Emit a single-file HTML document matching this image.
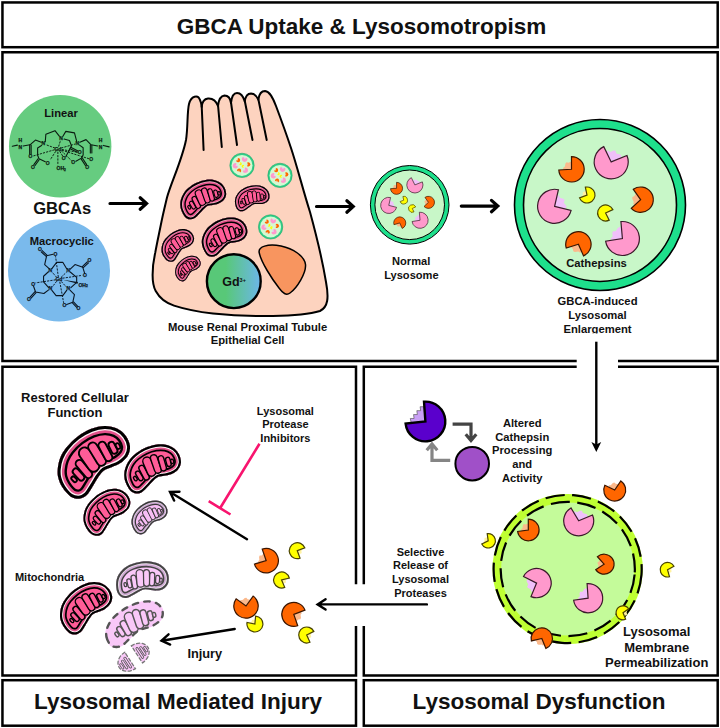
<!DOCTYPE html>
<html><head><meta charset="utf-8"><title>GBCA Uptake &amp; Lysosomotropism</title>
<style>html,body{margin:0;padding:0;background:#fff}svg{display:block}text{font-family:"Liberation Sans",sans-serif}</style>
</head><body>
<svg width="720" height="728" viewBox="0 0 720 728" font-family="'Liberation Sans', sans-serif" fill="#111">
<rect width="720" height="728" fill="#fff"/>
<defs><linearGradient id="gdg" x1="0" x2="1" y1="0" y2="0"><stop offset="0.35" stop-color="#58c878"/><stop offset="1" stop-color="#6cb6ea"/></linearGradient><clipPath id="clipEnl"><rect x="540" y="320" width="120" height="13.6"/></clipPath></defs>
<g fill="none" stroke="#000" stroke-width="2.5" stroke-linejoin="miter">
<rect x="2.45" y="2.45" width="715.25" height="44.75"/>
<path d="M576.7,361 L2.45,361 L2.45,52.2 L717.7,52.2 L717.7,361 L618,361"/>
<path d="M356,584.3 L356,366.8 L2.45,366.8 L2.45,675.5 L356,675.5 L356,626.1"/>
<path d="M576.7,366.8 L363.8,366.8 L363.8,584.3 M363.8,626.1 L363.8,675.5 L717.7,675.5 L717.7,366.8 L618,366.8"/>
<rect x="2.45" y="680.2" width="353.55" height="45.5"/>
<rect x="363.8" y="680.2" width="353.9" height="45.5"/>
</g>
<text x="361.5" y="33.6" font-size="22.5" text-anchor="middle" font-weight="bold" >GBCA Uptake &amp; Lysosomotropism</text>
<text x="178" y="708.9" font-size="22.5" text-anchor="middle" font-weight="bold" >Lysosomal Mediated Injury</text>
<text x="539" y="708.9" font-size="22.5" text-anchor="middle" font-weight="bold" >Lysosomal Dysfunction</text>
<circle cx="60.2" cy="146.2" r="51.2" fill="#66cc80"/>
<circle cx="59" cy="270.5" r="51" fill="#7abaec"/>
<text x="61" y="116.7" font-size="11.2" text-anchor="middle" font-weight="bold" >Linear</text>
<text x="61.8" y="244.7" font-size="11.2" text-anchor="middle" font-weight="bold" >Macrocyclic</text>
<text x="62.2" y="214.4" font-size="16.6" text-anchor="middle" font-weight="bold" >GBCAs</text>
<g stroke="#0a1c10" stroke-width="1.1" fill="none" stroke-linecap="round" stroke-linejoin="round">
<polyline points="12.34,146.28 17.39,145.12"/>
<polyline points="23.17,145.99 29.97,144.83 35.46,140.06 41.24,142.23"/>
<polyline points="45.28,141.65 45.86,134.28 54.97,130.67 59.3,136.16"/>
<polyline points="62.91,136.16 65.8,131.39 74.47,132.84 76.64,141.08"/>
<polyline points="41.53,145.55 37.62,148.01 37.62,155.24 39.07,158.85 45.28,161.74"/>
<polyline points="64.07,139.05 69.42,140.5 71.58,145.84 70.14,148.3 65.8,156.68"/>
<polyline points="79.53,145.12 83.14,147.72 83.14,154.95 81.41,158.13 75.92,161.31"/>
<polyline points="79.82,142.23 86.03,139.63 91.09,144.83 97.6,145.99"/>
<polyline points="103.38,145.41 109.16,146.86"/>
<path d="M29.65,145.12 L29.65,154.08 M31.15,145.12 L31.15,154.08"/>
<path d="M38.03,158.84 L33.84,164.62 M39.24,159.72 L35.05,165.5"/>
<path d="M70.09,148.68 L77.32,152.3 M70.76,147.34 L77.99,150.95"/>
<path d="M81.07,158.83 L85.41,165.47 M82.33,158.01 L86.66,164.65"/>
<path d="M90.34,145.12 L90.34,153.07 M91.84,145.12 L91.84,153.07"/>
</g><g stroke="#0a1c10" stroke-width="0.95" fill="none" stroke-dasharray="2.2 1.1">
<path d="M54.97,148.01 L45.86,144.69"/>
<path d="M58.58,146.57 L60.6,140.21"/>
<path d="M61.18,148.01 L75.34,143.97"/>
<path d="M54.53,149.75 L32.86,156.1"/>
<path d="M55.69,151.34 L50.2,159.86"/>
<path d="M57.86,151.77 L57.86,165.35"/>
<path d="M59.73,151.34 L62.91,156.39"/>
<path d="M61.18,150.61 L71.58,160.73"/>
<path d="M61.76,149.46 L77.94,152.35"/>
<path d="M61.76,150.18 L88.92,158.71"/>
</g>
<g fill="#0a1c10" stroke="#0a1c10" stroke-width="0.25" font-size="5" font-weight="bold" text-anchor="middle">
<text x="20.28" y="142.3">H</text>
<text x="20.28" y="148.66">N</text>
<text x="43.4" y="145.48">N</text>
<text x="61.18" y="139.98">N</text>
<text x="77.36" y="145.19">N</text>
<text x="100.49" y="142.3">H</text>
<text x="100.49" y="148.66">N</text>
<text x="57.86" y="150.97">Gd</text>
<text x="30.4" y="158.48">O</text>
<text x="32.86" y="168.89">O</text>
<text x="47.74" y="164.55">O</text>
<text x="63.64" y="159.93">O</text>
<text x="73.32" y="163.97">O</text>
<text x="79.82" y="154.44">O</text>
<text x="91.09" y="161.08">O</text>
<text x="87.19" y="168.6">O</text>
<text x="61.18" y="170.33">OH<tspan font-size="3.25" dy="0.8">2</tspan></text>
</g>
<g stroke="#0b1622" stroke-width="1.1" fill="none" stroke-linecap="round" stroke-linejoin="round">
<polyline points="49.11,268.67 44.67,264.56 46.67,255.67 53.11,254.33"/>
<polyline points="51.89,268.67 56.67,262.33 62.78,262.33 66.67,268.67"/>
<polyline points="70.22,272 76.67,277.33 76.67,282.33 70.89,287.56"/>
<polyline points="66.67,290.44 62.78,295.67 56.11,295.67 51.89,290.44"/>
<polyline points="48.44,271.78 43.56,276.22 43.56,281.78 48.44,287.33"/>
<polyline points="70.22,269.11 75,264.56 82.78,267.33 84.67,273.44"/>
<polyline points="48.33,290.11 43.89,293.44 35.56,292 33.56,286.22"/>
<polyline points="70.22,290.44 74.44,294.56 72.78,302.33 66.67,304.56"/>
<path d="M46.96,255.12 L42.18,250.67 M45.93,256.22 L41.16,251.77"/>
<path d="M83.28,267.66 L88.51,262.89 M82.27,266.56 L87.49,261.78"/>
<path d="M35.01,291.71 L30.01,297.04 M36.1,292.74 L31.1,298.07"/>
<path d="M72.46,302.85 L76.68,307.29 M73.54,301.82 L77.77,306.26"/>
</g><g stroke="#0b1622" stroke-width="0.95" fill="none" stroke-dasharray="2.2 1.1">
<path d="M56.67,277.33 L52,272"/>
<path d="M61.11,277.33 L66.67,272"/>
<path d="M56.67,281.22 L52,287.33"/>
<path d="M61.33,281.56 L66.67,287.33"/>
<path d="M58.33,277.11 L55.56,256.22"/>
<path d="M62.44,278.22 L82.22,275.33"/>
<path d="M55.78,279.78 L35.56,282.89"/>
<path d="M59.78,281.78 L63.67,302.89"/>
</g>
<path d="M62.78,279.78 L77.57,283.87 L77.98,281.91 Z" fill="#0b1622"/>
<g fill="#0b1622" stroke="#0b1622" stroke-width="0.25" font-size="5" font-weight="bold" text-anchor="middle">
<text x="40" y="251.13">O</text>
<text x="55.33" y="255.8">O</text>
<text x="50.22" y="272.24">N</text>
<text x="68.33" y="272.24">N</text>
<text x="50.22" y="290.47">N</text>
<text x="68.33" y="290.47">N</text>
<text x="58.89" y="281.13">Gd</text>
<text x="89.44" y="262.24">O</text>
<text x="85" y="277.47">O</text>
<text x="83.11" y="286.69">OH<tspan font-size="3.25" dy="0.8">2</tspan></text>
<text x="33.11" y="285.8">O</text>
<text x="28.89" y="300.8">O</text>
<text x="64.44" y="306.91">O</text>
<text x="78.33" y="310.24">O</text>
</g>
<path d="M110,203.5 L146.5,203.5 M140.18,209.19 L146.5,203.5 L140.18,197.81" fill="none" stroke="#000" stroke-width="3.2" stroke-linecap="round" stroke-linejoin="miter"/>
<path d="M316.5,206.5 L353.2,206.5 M346.88,212.19 L353.2,206.5 L346.88,200.81" fill="none" stroke="#000" stroke-width="3.2" stroke-linecap="round" stroke-linejoin="miter"/>
<path d="M461.3,206.1 L497.8,206.1 M491.48,211.79 L497.8,206.1 L491.48,200.41" fill="none" stroke="#000" stroke-width="3.2" stroke-linecap="round" stroke-linejoin="miter"/>
<path d="M167,197.5 C171,183 182,160 186,140 C188,128 187,112 189,104 C191,96 198,94 200,100 C201.5,103 201.5,105 201.7,107 C202,103 203,99 208,98.5 C214,98 216.5,102 218,106 C218.5,101 220,96 224.5,95.5 C229,95.5 230.5,99.5 231,103 C231.5,98 233,93 237,93 C241.5,93 243.5,97 244.8,101.5 C245.3,97.5 247,93.5 251,93.5 C255,93.8 257,96.5 258.3,99.5 C259,95 261,91 265,91 C270,91.5 273,98 276,106 C282,122 287,136 291,148 C297,166 303,190 310,212 C316,234 322,258 326,282 C329,298 328,307 320,311 C300,317 250,317.5 213,313.5 C200,312 186,309.5 174,305.6 C166,303 159,297 155.7,291 C153.5,287 152.6,283 152.6,275 C152.6,266 154,258 155.3,252.4 C157,243 159,234 160.8,225 C163,214 165,206 167,197.5 Z" fill="#fdd3bf" stroke="#000" stroke-width="2" stroke-linejoin="round"/>
<path d="M201.7,106 L203.6,150 M218,105 L221.8,147 M231,102.5 L237,145 M244.8,101 L252.5,140 M258.3,99 L266.7,140" fill="none" stroke="#000" stroke-width="2" stroke-linecap="round"/>
<circle cx="242" cy="165.4" r="12.2" fill="#2fd088" stroke="#1c9c62" stroke-width="0.5"/>
<circle cx="242" cy="165.4" r="10.5" fill="#d6f8d3"/>
<polygon points="244.6,159.1 243.76,157.64 243.92,157.33 244.27,157.56 244.51,157.45 244.79,157.27 245.09,157.27 245.24,157.66 245.5,157.71 245.83,157.74 246.07,157.91 246.06,158.26" fill="#f0c0fa"/>
<path d="M244.6,159.1 L246.94,157.75 A2.7,2.7 0 1 1 243.25,156.76 Z" fill="#ff99cc" stroke="#3a1a2a" stroke-width="0.01" stroke-linejoin="miter"/>
<polygon points="235.5,165.7 236.08,164.11 236.42,164.05 236.47,164.46 236.71,164.57 237.02,164.67 237.21,164.9 237.02,165.26 237.14,165.5 237.33,165.76 237.36,166.06 237.09,166.28" fill="#f0c0fa"/>
<path d="M235.5,165.7 L238.04,166.62 A2.7,2.7 0 1 1 236.42,163.16 Z" fill="#ff99cc" stroke="#3a1a2a" stroke-width="0.01" stroke-linejoin="miter"/>
<polygon points="245.3,170.2 243.64,170.49 243.41,170.23 243.74,169.98 243.72,169.72 243.65,169.4 243.75,169.12 244.16,169.1 244.31,168.88 244.44,168.58 244.68,168.41 245.01,168.54" fill="#f0c0fa"/>
<path d="M245.3,170.2 L244.83,167.54 A2.7,2.7 0 1 1 242.64,170.67 Z" fill="#ff99cc" stroke="#3a1a2a" stroke-width="0.01" stroke-linejoin="miter"/>
<polygon points="238.1,160.2 236.84,160.42 236.67,160.17 236.94,159.94 236.96,159.7 236.96,159.41 237.11,159.17 237.46,159.19 237.65,159.04 237.88,158.94" fill="#fbb98c"/>
<path d="M238.1,160.2 L237.74,158.13 A2.1,2.1 0 1 1 236.03,160.56 Z" fill="#ff6600" stroke="#3a1500" stroke-width="0.01" stroke-linejoin="miter"/>
<polygon points="248.3,164.4 247.48,165.38 247.17,165.27 247.22,164.9 247.08,164.67 246.91,164.4 246.91,164.09 247.22,163.9 247.31,163.64 247.48,163.42" fill="#fbb98c"/>
<path d="M248.3,164.4 L246.95,162.79 A2.1,2.1 0 1 1 246.95,166.01 Z" fill="#ff6600" stroke="#3a1500" stroke-width="0.01" stroke-linejoin="miter"/>
<polygon points="239.1,170.6 239.74,171.7 239.53,171.96 239.2,171.79 238.94,171.84 238.63,171.9 238.33,171.8 238.26,171.44 238.05,171.27 237.9,171.04" fill="#fbb98c"/>
<path d="M239.1,170.6 L237.13,171.32 A2.1,2.1 0 1 1 240.15,172.42 Z" fill="#ff6600" stroke="#3a1500" stroke-width="0.01" stroke-linejoin="miter"/>
<polygon points="240.4,163.7 239.73,164.09 239.57,163.96 239.68,163.76 239.65,163.6 239.61,163.41 239.67,163.24 239.89,163.19 239.99,163.06 240.14,162.97" fill="#fff2a0"/>
<path d="M240.4,163.7 L239.92,162.38 A1.4,1.4 0 1 1 239.19,164.4 Z" fill="#ffff00" stroke="#4a4400" stroke-width="0.01" stroke-linejoin="miter"/>
<polygon points="243,166.3 243.7,165.97 243.84,166.09 243.72,166.25 243.75,166.39 243.8,166.55 243.76,166.71 243.56,166.75 243.49,166.87 243.39,166.97" fill="#fff2a0"/>
<path d="M243,166.3 L243.7,167.51 A1.4,1.4 0 1 1 244.27,165.71 Z" fill="#ffff00" stroke="#4a4400" stroke-width="0.01" stroke-linejoin="miter"/>
<circle cx="280" cy="175.4" r="12.2" fill="#2fd088" stroke="#1c9c62" stroke-width="0.5"/>
<circle cx="280" cy="175.4" r="10.5" fill="#d6f8d3"/>
<polygon points="282.6,169.1 281.76,167.64 281.92,167.33 282.27,167.56 282.51,167.45 282.79,167.27 283.09,167.27 283.24,167.66 283.5,167.71 283.83,167.74 284.07,167.91 284.06,168.26" fill="#f0c0fa"/>
<path d="M282.6,169.1 L284.94,167.75 A2.7,2.7 0 1 1 281.25,166.76 Z" fill="#ff99cc" stroke="#3a1a2a" stroke-width="0.01" stroke-linejoin="miter"/>
<polygon points="273.5,175.7 274.08,174.11 274.42,174.05 274.47,174.46 274.71,174.57 275.02,174.67 275.21,174.9 275.02,175.26 275.14,175.5 275.33,175.76 275.36,176.06 275.09,176.28" fill="#f0c0fa"/>
<path d="M273.5,175.7 L276.04,176.62 A2.7,2.7 0 1 1 274.42,173.16 Z" fill="#ff99cc" stroke="#3a1a2a" stroke-width="0.01" stroke-linejoin="miter"/>
<polygon points="283.3,180.2 281.64,180.49 281.41,180.23 281.74,179.98 281.72,179.72 281.65,179.4 281.75,179.12 282.16,179.1 282.31,178.88 282.44,178.58 282.68,178.41 283.01,178.54" fill="#f0c0fa"/>
<path d="M283.3,180.2 L282.83,177.54 A2.7,2.7 0 1 1 280.64,180.67 Z" fill="#ff99cc" stroke="#3a1a2a" stroke-width="0.01" stroke-linejoin="miter"/>
<polygon points="276.1,170.2 274.84,170.42 274.67,170.17 274.94,169.94 274.96,169.7 274.96,169.41 275.11,169.17 275.46,169.19 275.65,169.04 275.88,168.94" fill="#fbb98c"/>
<path d="M276.1,170.2 L275.74,168.13 A2.1,2.1 0 1 1 274.03,170.56 Z" fill="#ff6600" stroke="#3a1500" stroke-width="0.01" stroke-linejoin="miter"/>
<polygon points="286.3,174.4 285.48,175.38 285.17,175.27 285.22,174.9 285.08,174.67 284.91,174.4 284.91,174.09 285.22,173.9 285.31,173.64 285.48,173.42" fill="#fbb98c"/>
<path d="M286.3,174.4 L284.95,172.79 A2.1,2.1 0 1 1 284.95,176.01 Z" fill="#ff6600" stroke="#3a1500" stroke-width="0.01" stroke-linejoin="miter"/>
<polygon points="277.1,180.6 277.74,181.7 277.53,181.96 277.2,181.79 276.94,181.84 276.63,181.9 276.33,181.8 276.26,181.44 276.05,181.27 275.9,181.04" fill="#fbb98c"/>
<path d="M277.1,180.6 L275.13,181.32 A2.1,2.1 0 1 1 278.15,182.42 Z" fill="#ff6600" stroke="#3a1500" stroke-width="0.01" stroke-linejoin="miter"/>
<polygon points="278.4,173.7 277.73,174.09 277.57,173.96 277.68,173.76 277.65,173.6 277.61,173.41 277.67,173.24 277.89,173.19 277.99,173.06 278.14,172.97" fill="#fff2a0"/>
<path d="M278.4,173.7 L277.92,172.38 A1.4,1.4 0 1 1 277.19,174.4 Z" fill="#ffff00" stroke="#4a4400" stroke-width="0.01" stroke-linejoin="miter"/>
<polygon points="281,176.3 281.7,175.97 281.84,176.09 281.72,176.25 281.75,176.39 281.8,176.55 281.76,176.71 281.56,176.75 281.49,176.87 281.39,176.97" fill="#fff2a0"/>
<path d="M281,176.3 L281.7,177.51 A1.4,1.4 0 1 1 282.27,175.71 Z" fill="#ffff00" stroke="#4a4400" stroke-width="0.01" stroke-linejoin="miter"/>
<circle cx="270.6" cy="226.9" r="12.2" fill="#2fd088" stroke="#1c9c62" stroke-width="0.5"/>
<circle cx="270.6" cy="226.9" r="10.5" fill="#d6f8d3"/>
<polygon points="273.2,220.6 272.36,219.14 272.52,218.83 272.87,219.06 273.11,218.95 273.39,218.77 273.69,218.77 273.84,219.16 274.1,219.21 274.43,219.24 274.67,219.41 274.66,219.76" fill="#f0c0fa"/>
<path d="M273.2,220.6 L275.54,219.25 A2.7,2.7 0 1 1 271.85,218.26 Z" fill="#ff99cc" stroke="#3a1a2a" stroke-width="0.01" stroke-linejoin="miter"/>
<polygon points="264.1,227.2 264.68,225.61 265.02,225.55 265.07,225.96 265.31,226.07 265.62,226.17 265.81,226.4 265.62,226.76 265.74,227 265.93,227.26 265.96,227.56 265.69,227.78" fill="#f0c0fa"/>
<path d="M264.1,227.2 L266.64,228.12 A2.7,2.7 0 1 1 265.02,224.66 Z" fill="#ff99cc" stroke="#3a1a2a" stroke-width="0.01" stroke-linejoin="miter"/>
<polygon points="273.9,231.7 272.24,231.99 272.01,231.73 272.34,231.48 272.32,231.22 272.25,230.9 272.35,230.62 272.76,230.6 272.91,230.38 273.04,230.08 273.28,229.91 273.61,230.04" fill="#f0c0fa"/>
<path d="M273.9,231.7 L273.43,229.04 A2.7,2.7 0 1 1 271.24,232.17 Z" fill="#ff99cc" stroke="#3a1a2a" stroke-width="0.01" stroke-linejoin="miter"/>
<polygon points="266.7,221.7 265.44,221.92 265.27,221.67 265.54,221.44 265.56,221.2 265.56,220.91 265.71,220.67 266.06,220.69 266.25,220.54 266.48,220.44" fill="#fbb98c"/>
<path d="M266.7,221.7 L266.34,219.63 A2.1,2.1 0 1 1 264.63,222.06 Z" fill="#ff6600" stroke="#3a1500" stroke-width="0.01" stroke-linejoin="miter"/>
<polygon points="276.9,225.9 276.08,226.88 275.77,226.77 275.82,226.4 275.68,226.17 275.51,225.9 275.51,225.59 275.82,225.4 275.91,225.14 276.08,224.92" fill="#fbb98c"/>
<path d="M276.9,225.9 L275.55,224.29 A2.1,2.1 0 1 1 275.55,227.51 Z" fill="#ff6600" stroke="#3a1500" stroke-width="0.01" stroke-linejoin="miter"/>
<polygon points="267.7,232.1 268.34,233.2 268.13,233.46 267.8,233.29 267.54,233.34 267.23,233.4 266.93,233.3 266.86,232.94 266.65,232.77 266.5,232.54" fill="#fbb98c"/>
<path d="M267.7,232.1 L265.73,232.82 A2.1,2.1 0 1 1 268.75,233.92 Z" fill="#ff6600" stroke="#3a1500" stroke-width="0.01" stroke-linejoin="miter"/>
<polygon points="269,225.2 268.33,225.59 268.17,225.46 268.28,225.26 268.25,225.1 268.21,224.91 268.27,224.74 268.49,224.69 268.59,224.56 268.74,224.47" fill="#fff2a0"/>
<path d="M269,225.2 L268.52,223.88 A1.4,1.4 0 1 1 267.79,225.9 Z" fill="#ffff00" stroke="#4a4400" stroke-width="0.01" stroke-linejoin="miter"/>
<polygon points="271.6,227.8 272.3,227.47 272.44,227.59 272.32,227.75 272.35,227.89 272.4,228.05 272.36,228.21 272.16,228.25 272.09,228.37 271.99,228.47" fill="#fff2a0"/>
<path d="M271.6,227.8 L272.3,229.01 A1.4,1.4 0 1 1 272.87,227.21 Z" fill="#ffff00" stroke="#4a4400" stroke-width="0.01" stroke-linejoin="miter"/>
<clipPath id="mc1"><path d="M181.46,210.74 C180.66,208.72 180.3,206.65 180.22,204.75 C180.13,202.86 180.37,201.3 180.96,199.37 C181.55,197.45 182.47,195.11 183.75,193.18 C185.04,191.25 186.53,189.54 188.65,187.81 C190.78,186.08 193.7,184.11 196.51,182.8 C199.32,181.49 202.63,180.42 205.52,179.95 C208.4,179.47 211.3,179.46 213.83,179.96 C216.36,180.46 218.85,181.58 220.69,182.96 C222.53,184.33 223.96,186.25 224.87,188.21 C225.77,190.18 226.35,192.73 226.12,194.74 C225.9,196.75 224.86,198.79 223.53,200.28 C222.2,201.77 219.95,202.92 218.14,203.69 C216.34,204.47 214.42,204.57 212.71,204.92 C210.99,205.28 209.3,205.21 207.87,205.83 C206.45,206.45 205.58,207.33 204.16,208.64 C202.74,209.95 200.93,212.11 199.36,213.68 C197.8,215.25 196.35,217.13 194.77,218.06 C193.19,218.99 191.5,219.47 189.88,219.28 C188.25,219.08 186.41,218.31 185,216.88 C183.6,215.46 182.26,212.76 181.46,210.74Z"/></clipPath>
<g clip-path="url(#mc1)" fill="none" stroke-linejoin="round">
<path d="M181.46,210.74 C180.66,208.72 180.3,206.65 180.22,204.75 C180.13,202.86 180.37,201.3 180.96,199.37 C181.55,197.45 182.47,195.11 183.75,193.18 C185.04,191.25 186.53,189.54 188.65,187.81 C190.78,186.08 193.7,184.11 196.51,182.8 C199.32,181.49 202.63,180.42 205.52,179.95 C208.4,179.47 211.3,179.46 213.83,179.96 C216.36,180.46 218.85,181.58 220.69,182.96 C222.53,184.33 223.96,186.25 224.87,188.21 C225.77,190.18 226.35,192.73 226.12,194.74 C225.9,196.75 224.86,198.79 223.53,200.28 C222.2,201.77 219.95,202.92 218.14,203.69 C216.34,204.47 214.42,204.57 212.71,204.92 C210.99,205.28 209.3,205.21 207.87,205.83 C206.45,206.45 205.58,207.33 204.16,208.64 C202.74,209.95 200.93,212.11 199.36,213.68 C197.8,215.25 196.35,217.13 194.77,218.06 C193.19,218.99 191.5,219.47 189.88,219.28 C188.25,219.08 186.41,218.31 185,216.88 C183.6,215.46 182.26,212.76 181.46,210.74Z" fill="#ff5c97"/>
<path d="M181.46,210.74 C180.66,208.72 180.3,206.65 180.22,204.75 C180.13,202.86 180.37,201.3 180.96,199.37 C181.55,197.45 182.47,195.11 183.75,193.18 C185.04,191.25 186.53,189.54 188.65,187.81 C190.78,186.08 193.7,184.11 196.51,182.8 C199.32,181.49 202.63,180.42 205.52,179.95 C208.4,179.47 211.3,179.46 213.83,179.96 C216.36,180.46 218.85,181.58 220.69,182.96 C222.53,184.33 223.96,186.25 224.87,188.21 C225.77,190.18 226.35,192.73 226.12,194.74 C225.9,196.75 224.86,198.79 223.53,200.28 C222.2,201.77 219.95,202.92 218.14,203.69 C216.34,204.47 214.42,204.57 212.71,204.92 C210.99,205.28 209.3,205.21 207.87,205.83 C206.45,206.45 205.58,207.33 204.16,208.64 C202.74,209.95 200.93,212.11 199.36,213.68 C197.8,215.25 196.35,217.13 194.77,218.06 C193.19,218.99 191.5,219.47 189.88,219.28 C188.25,219.08 186.41,218.31 185,216.88 C183.6,215.46 182.26,212.76 181.46,210.74Z" stroke="#000" stroke-width="11.12"/>
<path d="M181.46,210.74 C180.66,208.72 180.3,206.65 180.22,204.75 C180.13,202.86 180.37,201.3 180.96,199.37 C181.55,197.45 182.47,195.11 183.75,193.18 C185.04,191.25 186.53,189.54 188.65,187.81 C190.78,186.08 193.7,184.11 196.51,182.8 C199.32,181.49 202.63,180.42 205.52,179.95 C208.4,179.47 211.3,179.46 213.83,179.96 C216.36,180.46 218.85,181.58 220.69,182.96 C222.53,184.33 223.96,186.25 224.87,188.21 C225.77,190.18 226.35,192.73 226.12,194.74 C225.9,196.75 224.86,198.79 223.53,200.28 C222.2,201.77 219.95,202.92 218.14,203.69 C216.34,204.47 214.42,204.57 212.71,204.92 C210.99,205.28 209.3,205.21 207.87,205.83 C206.45,206.45 205.58,207.33 204.16,208.64 C202.74,209.95 200.93,212.11 199.36,213.68 C197.8,215.25 196.35,217.13 194.77,218.06 C193.19,218.99 191.5,219.47 189.88,219.28 C188.25,219.08 186.41,218.31 185,216.88 C183.6,215.46 182.26,212.76 181.46,210.74Z" stroke="#e4508a" stroke-width="8.25"/>
<path d="M181.46,210.74 C180.66,208.72 180.3,206.65 180.22,204.75 C180.13,202.86 180.37,201.3 180.96,199.37 C181.55,197.45 182.47,195.11 183.75,193.18 C185.04,191.25 186.53,189.54 188.65,187.81 C190.78,186.08 193.7,184.11 196.51,182.8 C199.32,181.49 202.63,180.42 205.52,179.95 C208.4,179.47 211.3,179.46 213.83,179.96 C216.36,180.46 218.85,181.58 220.69,182.96 C222.53,184.33 223.96,186.25 224.87,188.21 C225.77,190.18 226.35,192.73 226.12,194.74 C225.9,196.75 224.86,198.79 223.53,200.28 C222.2,201.77 219.95,202.92 218.14,203.69 C216.34,204.47 214.42,204.57 212.71,204.92 C210.99,205.28 209.3,205.21 207.87,205.83 C206.45,206.45 205.58,207.33 204.16,208.64 C202.74,209.95 200.93,212.11 199.36,213.68 C197.8,215.25 196.35,217.13 194.77,218.06 C193.19,218.99 191.5,219.47 189.88,219.28 C188.25,219.08 186.41,218.31 185,216.88 C183.6,215.46 182.26,212.76 181.46,210.74Z" stroke="#f3b0c4" stroke-width="5.14"/>
<path d="M181.46,210.74 C180.66,208.72 180.3,206.65 180.22,204.75 C180.13,202.86 180.37,201.3 180.96,199.37 C181.55,197.45 182.47,195.11 183.75,193.18 C185.04,191.25 186.53,189.54 188.65,187.81 C190.78,186.08 193.7,184.11 196.51,182.8 C199.32,181.49 202.63,180.42 205.52,179.95 C208.4,179.47 211.3,179.46 213.83,179.96 C216.36,180.46 218.85,181.58 220.69,182.96 C222.53,184.33 223.96,186.25 224.87,188.21 C225.77,190.18 226.35,192.73 226.12,194.74 C225.9,196.75 224.86,198.79 223.53,200.28 C222.2,201.77 219.95,202.92 218.14,203.69 C216.34,204.47 214.42,204.57 212.71,204.92 C210.99,205.28 209.3,205.21 207.87,205.83 C206.45,206.45 205.58,207.33 204.16,208.64 C202.74,209.95 200.93,212.11 199.36,213.68 C197.8,215.25 196.35,217.13 194.77,218.06 C193.19,218.99 191.5,219.47 189.88,219.28 C188.25,219.08 186.41,218.31 185,216.88 C183.6,215.46 182.26,212.76 181.46,210.74Z" stroke="#000" stroke-width="3.59"/>
</g>
<path d="M188.87,206.66 L189.67,207.95" stroke="#000" stroke-width="3.4" stroke-linecap="round" fill="none"/>
<path d="M188.87,206.66 L189.67,207.95" stroke="#ff5c97" stroke-width="1.13" stroke-linecap="round" fill="none"/>
<path d="M191.21,202.98 L193.7,207.13" stroke="#000" stroke-width="4.77" stroke-linecap="round" fill="none"/>
<path d="M191.21,202.98 L193.7,207.13" stroke="#ff5c97" stroke-width="2.5" stroke-linecap="round" fill="none"/>
<path d="M194.34,198.82 L198.22,206.12" stroke="#000" stroke-width="5.67" stroke-linecap="round" fill="none"/>
<path d="M194.34,198.82 L198.22,206.12" stroke="#ff5c97" stroke-width="3.4" stroke-linecap="round" fill="none"/>
<path d="M198.69,193.32 L202.34,201.91" stroke="#000" stroke-width="8" stroke-linecap="round" fill="none"/>
<path d="M198.69,193.32 L202.34,201.91" stroke="#ff5c97" stroke-width="5.72" stroke-linecap="round" fill="none"/>
<path d="M204.22,190.76 L207.46,200.14" stroke="#000" stroke-width="6.62" stroke-linecap="round" fill="none"/>
<path d="M204.22,190.76 L207.46,200.14" stroke="#ff5c97" stroke-width="4.35" stroke-linecap="round" fill="none"/>
<path d="M209.93,191.05 L212.14,198.76" stroke="#000" stroke-width="5.67" stroke-linecap="round" fill="none"/>
<path d="M209.93,191.05 L212.14,198.76" stroke="#ff5c97" stroke-width="3.4" stroke-linecap="round" fill="none"/>
<path d="M215.44,191.84 L216.45,195.62" stroke="#000" stroke-width="4.72" stroke-linecap="round" fill="none"/>
<path d="M215.44,191.84 L216.45,195.62" stroke="#ff5c97" stroke-width="2.44" stroke-linecap="round" fill="none"/>
<path d="M218.89,192.71 L219.24,193.98" stroke="#000" stroke-width="3.4" stroke-linecap="round" fill="none"/>
<path d="M218.89,192.71 L219.24,193.98" stroke="#ff5c97" stroke-width="1.13" stroke-linecap="round" fill="none"/>
<clipPath id="mc2"><path d="M235.14,203.89 C234.86,202.34 234.88,200.81 235.09,199.45 C235.29,198.09 235.67,197.01 236.36,195.72 C237.05,194.43 238.03,192.89 239.21,191.69 C240.39,190.5 241.69,189.48 243.45,188.54 C245.2,187.6 247.56,186.6 249.74,186.06 C251.93,185.52 254.43,185.21 256.55,185.28 C258.68,185.34 260.74,185.73 262.48,186.44 C264.21,187.14 265.83,188.29 266.95,189.52 C268.07,190.76 268.82,192.32 269.2,193.85 C269.57,195.37 269.63,197.27 269.19,198.68 C268.75,200.08 267.73,201.38 266.57,202.26 C265.42,203.14 263.66,203.65 262.26,203.95 C260.87,204.25 259.49,204.06 258.22,204.07 C256.95,204.09 255.75,203.81 254.65,204.05 C253.55,204.29 252.8,204.8 251.61,205.53 C250.42,206.27 248.83,207.56 247.49,208.46 C246.16,209.37 244.87,210.5 243.61,210.95 C242.36,211.4 241.09,211.5 239.96,211.14 C238.83,210.77 237.62,209.97 236.82,208.76 C236.02,207.55 235.43,205.44 235.14,203.89Z"/></clipPath>
<g clip-path="url(#mc2)" fill="none" stroke-linejoin="round">
<path d="M235.14,203.89 C234.86,202.34 234.88,200.81 235.09,199.45 C235.29,198.09 235.67,197.01 236.36,195.72 C237.05,194.43 238.03,192.89 239.21,191.69 C240.39,190.5 241.69,189.48 243.45,188.54 C245.2,187.6 247.56,186.6 249.74,186.06 C251.93,185.52 254.43,185.21 256.55,185.28 C258.68,185.34 260.74,185.73 262.48,186.44 C264.21,187.14 265.83,188.29 266.95,189.52 C268.07,190.76 268.82,192.32 269.2,193.85 C269.57,195.37 269.63,197.27 269.19,198.68 C268.75,200.08 267.73,201.38 266.57,202.26 C265.42,203.14 263.66,203.65 262.26,203.95 C260.87,204.25 259.49,204.06 258.22,204.07 C256.95,204.09 255.75,203.81 254.65,204.05 C253.55,204.29 252.8,204.8 251.61,205.53 C250.42,206.27 248.83,207.56 247.49,208.46 C246.16,209.37 244.87,210.5 243.61,210.95 C242.36,211.4 241.09,211.5 239.96,211.14 C238.83,210.77 237.62,209.97 236.82,208.76 C236.02,207.55 235.43,205.44 235.14,203.89Z" fill="#ff5c97"/>
<path d="M235.14,203.89 C234.86,202.34 234.88,200.81 235.09,199.45 C235.29,198.09 235.67,197.01 236.36,195.72 C237.05,194.43 238.03,192.89 239.21,191.69 C240.39,190.5 241.69,189.48 243.45,188.54 C245.2,187.6 247.56,186.6 249.74,186.06 C251.93,185.52 254.43,185.21 256.55,185.28 C258.68,185.34 260.74,185.73 262.48,186.44 C264.21,187.14 265.83,188.29 266.95,189.52 C268.07,190.76 268.82,192.32 269.2,193.85 C269.57,195.37 269.63,197.27 269.19,198.68 C268.75,200.08 267.73,201.38 266.57,202.26 C265.42,203.14 263.66,203.65 262.26,203.95 C260.87,204.25 259.49,204.06 258.22,204.07 C256.95,204.09 255.75,203.81 254.65,204.05 C253.55,204.29 252.8,204.8 251.61,205.53 C250.42,206.27 248.83,207.56 247.49,208.46 C246.16,209.37 244.87,210.5 243.61,210.95 C242.36,211.4 241.09,211.5 239.96,211.14 C238.83,210.77 237.62,209.97 236.82,208.76 C236.02,207.55 235.43,205.44 235.14,203.89Z" stroke="#000" stroke-width="8.22"/>
<path d="M235.14,203.89 C234.86,202.34 234.88,200.81 235.09,199.45 C235.29,198.09 235.67,197.01 236.36,195.72 C237.05,194.43 238.03,192.89 239.21,191.69 C240.39,190.5 241.69,189.48 243.45,188.54 C245.2,187.6 247.56,186.6 249.74,186.06 C251.93,185.52 254.43,185.21 256.55,185.28 C258.68,185.34 260.74,185.73 262.48,186.44 C264.21,187.14 265.83,188.29 266.95,189.52 C268.07,190.76 268.82,192.32 269.2,193.85 C269.57,195.37 269.63,197.27 269.19,198.68 C268.75,200.08 267.73,201.38 266.57,202.26 C265.42,203.14 263.66,203.65 262.26,203.95 C260.87,204.25 259.49,204.06 258.22,204.07 C256.95,204.09 255.75,203.81 254.65,204.05 C253.55,204.29 252.8,204.8 251.61,205.53 C250.42,206.27 248.83,207.56 247.49,208.46 C246.16,209.37 244.87,210.5 243.61,210.95 C242.36,211.4 241.09,211.5 239.96,211.14 C238.83,210.77 237.62,209.97 236.82,208.76 C236.02,207.55 235.43,205.44 235.14,203.89Z" stroke="#e4508a" stroke-width="6.13"/>
<path d="M235.14,203.89 C234.86,202.34 234.88,200.81 235.09,199.45 C235.29,198.09 235.67,197.01 236.36,195.72 C237.05,194.43 238.03,192.89 239.21,191.69 C240.39,190.5 241.69,189.48 243.45,188.54 C245.2,187.6 247.56,186.6 249.74,186.06 C251.93,185.52 254.43,185.21 256.55,185.28 C258.68,185.34 260.74,185.73 262.48,186.44 C264.21,187.14 265.83,188.29 266.95,189.52 C268.07,190.76 268.82,192.32 269.2,193.85 C269.57,195.37 269.63,197.27 269.19,198.68 C268.75,200.08 267.73,201.38 266.57,202.26 C265.42,203.14 263.66,203.65 262.26,203.95 C260.87,204.25 259.49,204.06 258.22,204.07 C256.95,204.09 255.75,203.81 254.65,204.05 C253.55,204.29 252.8,204.8 251.61,205.53 C250.42,206.27 248.83,207.56 247.49,208.46 C246.16,209.37 244.87,210.5 243.61,210.95 C242.36,211.4 241.09,211.5 239.96,211.14 C238.83,210.77 237.62,209.97 236.82,208.76 C236.02,207.55 235.43,205.44 235.14,203.89Z" stroke="#f3b0c4" stroke-width="3.73"/>
<path d="M235.14,203.89 C234.86,202.34 234.88,200.81 235.09,199.45 C235.29,198.09 235.67,197.01 236.36,195.72 C237.05,194.43 238.03,192.89 239.21,191.69 C240.39,190.5 241.69,189.48 243.45,188.54 C245.2,187.6 247.56,186.6 249.74,186.06 C251.93,185.52 254.43,185.21 256.55,185.28 C258.68,185.34 260.74,185.73 262.48,186.44 C264.21,187.14 265.83,188.29 266.95,189.52 C268.07,190.76 268.82,192.32 269.2,193.85 C269.57,195.37 269.63,197.27 269.19,198.68 C268.75,200.08 267.73,201.38 266.57,202.26 C265.42,203.14 263.66,203.65 262.26,203.95 C260.87,204.25 259.49,204.06 258.22,204.07 C256.95,204.09 255.75,203.81 254.65,204.05 C253.55,204.29 252.8,204.8 251.61,205.53 C250.42,206.27 248.83,207.56 247.49,208.46 C246.16,209.37 244.87,210.5 243.61,210.95 C242.36,211.4 241.09,211.5 239.96,211.14 C238.83,210.77 237.62,209.97 236.82,208.76 C236.02,207.55 235.43,205.44 235.14,203.89Z" stroke="#000" stroke-width="2.6"/>
</g>
<path d="M240.99,202.01 L241.38,203.04" stroke="#000" stroke-width="2.47" stroke-linecap="round" fill="none"/>
<path d="M240.99,202.01 L241.38,203.04" stroke="#ff5c97" stroke-width="0.82" stroke-linecap="round" fill="none"/>
<path d="M243.16,199.71 L244.37,203.01" stroke="#000" stroke-width="3.47" stroke-linecap="round" fill="none"/>
<path d="M243.16,199.71 L244.37,203.01" stroke="#ff5c97" stroke-width="1.82" stroke-linecap="round" fill="none"/>
<path d="M245.98,197.18 L247.73,202.92" stroke="#000" stroke-width="4.12" stroke-linecap="round" fill="none"/>
<path d="M245.98,197.18 L247.73,202.92" stroke="#ff5c97" stroke-width="2.47" stroke-linecap="round" fill="none"/>
<path d="M249.84,193.86 L251.24,200.49" stroke="#000" stroke-width="5.81" stroke-linecap="round" fill="none"/>
<path d="M249.84,193.86 L251.24,200.49" stroke="#ff5c97" stroke-width="4.16" stroke-linecap="round" fill="none"/>
<path d="M254.14,192.8 L255.14,199.94" stroke="#000" stroke-width="4.81" stroke-linecap="round" fill="none"/>
<path d="M254.14,192.8 L255.14,199.94" stroke="#ff5c97" stroke-width="3.16" stroke-linecap="round" fill="none"/>
<path d="M258.16,193.8 L258.67,199.6" stroke="#000" stroke-width="4.12" stroke-linecap="round" fill="none"/>
<path d="M258.16,193.8 L258.67,199.6" stroke="#ff5c97" stroke-width="2.47" stroke-linecap="round" fill="none"/>
<path d="M261.98,195.13 L262.18,197.96" stroke="#000" stroke-width="3.42" stroke-linecap="round" fill="none"/>
<path d="M261.98,195.13 L262.18,197.96" stroke="#ff5c97" stroke-width="1.77" stroke-linecap="round" fill="none"/>
<path d="M264.32,196.22 L264.39,197.18" stroke="#000" stroke-width="2.47" stroke-linecap="round" fill="none"/>
<path d="M264.32,196.22 L264.39,197.18" stroke="#ff5c97" stroke-width="0.82" stroke-linecap="round" fill="none"/>
<clipPath id="mc3"><path d="M203.03,248.33 C202.24,246.32 201.88,244.27 201.79,242.39 C201.71,240.51 201.94,238.97 202.53,237.06 C203.11,235.14 204.03,232.82 205.3,230.91 C206.57,229 208.05,227.3 210.16,225.58 C212.27,223.87 215.17,221.91 217.95,220.61 C220.74,219.31 224.02,218.26 226.89,217.79 C229.75,217.32 232.63,217.3 235.13,217.8 C237.64,218.29 240.11,219.41 241.93,220.77 C243.76,222.14 245.18,224.04 246.08,225.98 C246.98,227.93 247.55,230.47 247.32,232.46 C247.1,234.46 246.07,236.47 244.75,237.95 C243.43,239.43 241.2,240.57 239.41,241.34 C237.62,242.11 235.72,242.21 234.02,242.56 C232.32,242.91 230.64,242.85 229.22,243.46 C227.81,244.07 226.95,244.95 225.54,246.24 C224.13,247.54 222.33,249.69 220.78,251.24 C219.23,252.8 217.79,254.66 216.23,255.59 C214.66,256.51 212.99,256.99 211.38,256.8 C209.76,256.6 207.93,255.83 206.54,254.42 C205.15,253.01 203.82,250.33 203.03,248.33Z"/></clipPath>
<g clip-path="url(#mc3)" fill="none" stroke-linejoin="round">
<path d="M203.03,248.33 C202.24,246.32 201.88,244.27 201.79,242.39 C201.71,240.51 201.94,238.97 202.53,237.06 C203.11,235.14 204.03,232.82 205.3,230.91 C206.57,229 208.05,227.3 210.16,225.58 C212.27,223.87 215.17,221.91 217.95,220.61 C220.74,219.31 224.02,218.26 226.89,217.79 C229.75,217.32 232.63,217.3 235.13,217.8 C237.64,218.29 240.11,219.41 241.93,220.77 C243.76,222.14 245.18,224.04 246.08,225.98 C246.98,227.93 247.55,230.47 247.32,232.46 C247.1,234.46 246.07,236.47 244.75,237.95 C243.43,239.43 241.2,240.57 239.41,241.34 C237.62,242.11 235.72,242.21 234.02,242.56 C232.32,242.91 230.64,242.85 229.22,243.46 C227.81,244.07 226.95,244.95 225.54,246.24 C224.13,247.54 222.33,249.69 220.78,251.24 C219.23,252.8 217.79,254.66 216.23,255.59 C214.66,256.51 212.99,256.99 211.38,256.8 C209.76,256.6 207.93,255.83 206.54,254.42 C205.15,253.01 203.82,250.33 203.03,248.33Z" fill="#ff5c97"/>
<path d="M203.03,248.33 C202.24,246.32 201.88,244.27 201.79,242.39 C201.71,240.51 201.94,238.97 202.53,237.06 C203.11,235.14 204.03,232.82 205.3,230.91 C206.57,229 208.05,227.3 210.16,225.58 C212.27,223.87 215.17,221.91 217.95,220.61 C220.74,219.31 224.02,218.26 226.89,217.79 C229.75,217.32 232.63,217.3 235.13,217.8 C237.64,218.29 240.11,219.41 241.93,220.77 C243.76,222.14 245.18,224.04 246.08,225.98 C246.98,227.93 247.55,230.47 247.32,232.46 C247.1,234.46 246.07,236.47 244.75,237.95 C243.43,239.43 241.2,240.57 239.41,241.34 C237.62,242.11 235.72,242.21 234.02,242.56 C232.32,242.91 230.64,242.85 229.22,243.46 C227.81,244.07 226.95,244.95 225.54,246.24 C224.13,247.54 222.33,249.69 220.78,251.24 C219.23,252.8 217.79,254.66 216.23,255.59 C214.66,256.51 212.99,256.99 211.38,256.8 C209.76,256.6 207.93,255.83 206.54,254.42 C205.15,253.01 203.82,250.33 203.03,248.33Z" stroke="#000" stroke-width="11.03"/>
<path d="M203.03,248.33 C202.24,246.32 201.88,244.27 201.79,242.39 C201.71,240.51 201.94,238.97 202.53,237.06 C203.11,235.14 204.03,232.82 205.3,230.91 C206.57,229 208.05,227.3 210.16,225.58 C212.27,223.87 215.17,221.91 217.95,220.61 C220.74,219.31 224.02,218.26 226.89,217.79 C229.75,217.32 232.63,217.3 235.13,217.8 C237.64,218.29 240.11,219.41 241.93,220.77 C243.76,222.14 245.18,224.04 246.08,225.98 C246.98,227.93 247.55,230.47 247.32,232.46 C247.1,234.46 246.07,236.47 244.75,237.95 C243.43,239.43 241.2,240.57 239.41,241.34 C237.62,242.11 235.72,242.21 234.02,242.56 C232.32,242.91 230.64,242.85 229.22,243.46 C227.81,244.07 226.95,244.95 225.54,246.24 C224.13,247.54 222.33,249.69 220.78,251.24 C219.23,252.8 217.79,254.66 216.23,255.59 C214.66,256.51 212.99,256.99 211.38,256.8 C209.76,256.6 207.93,255.83 206.54,254.42 C205.15,253.01 203.82,250.33 203.03,248.33Z" stroke="#e4508a" stroke-width="8.18"/>
<path d="M203.03,248.33 C202.24,246.32 201.88,244.27 201.79,242.39 C201.71,240.51 201.94,238.97 202.53,237.06 C203.11,235.14 204.03,232.82 205.3,230.91 C206.57,229 208.05,227.3 210.16,225.58 C212.27,223.87 215.17,221.91 217.95,220.61 C220.74,219.31 224.02,218.26 226.89,217.79 C229.75,217.32 232.63,217.3 235.13,217.8 C237.64,218.29 240.11,219.41 241.93,220.77 C243.76,222.14 245.18,224.04 246.08,225.98 C246.98,227.93 247.55,230.47 247.32,232.46 C247.1,234.46 246.07,236.47 244.75,237.95 C243.43,239.43 241.2,240.57 239.41,241.34 C237.62,242.11 235.72,242.21 234.02,242.56 C232.32,242.91 230.64,242.85 229.22,243.46 C227.81,244.07 226.95,244.95 225.54,246.24 C224.13,247.54 222.33,249.69 220.78,251.24 C219.23,252.8 217.79,254.66 216.23,255.59 C214.66,256.51 212.99,256.99 211.38,256.8 C209.76,256.6 207.93,255.83 206.54,254.42 C205.15,253.01 203.82,250.33 203.03,248.33Z" stroke="#f3b0c4" stroke-width="5.1"/>
<path d="M203.03,248.33 C202.24,246.32 201.88,244.27 201.79,242.39 C201.71,240.51 201.94,238.97 202.53,237.06 C203.11,235.14 204.03,232.82 205.3,230.91 C206.57,229 208.05,227.3 210.16,225.58 C212.27,223.87 215.17,221.91 217.95,220.61 C220.74,219.31 224.02,218.26 226.89,217.79 C229.75,217.32 232.63,217.3 235.13,217.8 C237.64,218.29 240.11,219.41 241.93,220.77 C243.76,222.14 245.18,224.04 246.08,225.98 C246.98,227.93 247.55,230.47 247.32,232.46 C247.1,234.46 246.07,236.47 244.75,237.95 C243.43,239.43 241.2,240.57 239.41,241.34 C237.62,242.11 235.72,242.21 234.02,242.56 C232.32,242.91 230.64,242.85 229.22,243.46 C227.81,244.07 226.95,244.95 225.54,246.24 C224.13,247.54 222.33,249.69 220.78,251.24 C219.23,252.8 217.79,254.66 216.23,255.59 C214.66,256.51 212.99,256.99 211.38,256.8 C209.76,256.6 207.93,255.83 206.54,254.42 C205.15,253.01 203.82,250.33 203.03,248.33Z" stroke="#000" stroke-width="3.56"/>
</g>
<path d="M210.38,244.28 L211.17,245.56" stroke="#000" stroke-width="3.37" stroke-linecap="round" fill="none"/>
<path d="M210.38,244.28 L211.17,245.56" stroke="#ff5c97" stroke-width="1.12" stroke-linecap="round" fill="none"/>
<path d="M212.69,240.64 L215.17,244.75" stroke="#000" stroke-width="4.74" stroke-linecap="round" fill="none"/>
<path d="M212.69,240.64 L215.17,244.75" stroke="#ff5c97" stroke-width="2.48" stroke-linecap="round" fill="none"/>
<path d="M215.8,236.51 L219.65,243.74" stroke="#000" stroke-width="5.62" stroke-linecap="round" fill="none"/>
<path d="M215.8,236.51 L219.65,243.74" stroke="#ff5c97" stroke-width="3.37" stroke-linecap="round" fill="none"/>
<path d="M220.11,231.05 L223.73,239.58" stroke="#000" stroke-width="7.93" stroke-linecap="round" fill="none"/>
<path d="M220.11,231.05 L223.73,239.58" stroke="#ff5c97" stroke-width="5.68" stroke-linecap="round" fill="none"/>
<path d="M225.61,228.51 L228.81,237.82" stroke="#000" stroke-width="6.57" stroke-linecap="round" fill="none"/>
<path d="M225.61,228.51 L228.81,237.82" stroke="#ff5c97" stroke-width="4.32" stroke-linecap="round" fill="none"/>
<path d="M231.26,228.8 L233.45,236.44" stroke="#000" stroke-width="5.62" stroke-linecap="round" fill="none"/>
<path d="M231.26,228.8 L233.45,236.44" stroke="#ff5c97" stroke-width="3.37" stroke-linecap="round" fill="none"/>
<path d="M236.73,229.58 L237.73,233.33" stroke="#000" stroke-width="4.68" stroke-linecap="round" fill="none"/>
<path d="M236.73,229.58 L237.73,233.33" stroke="#ff5c97" stroke-width="2.42" stroke-linecap="round" fill="none"/>
<path d="M240.16,230.44 L240.49,231.71" stroke="#000" stroke-width="3.37" stroke-linecap="round" fill="none"/>
<path d="M240.16,230.44 L240.49,231.71" stroke="#ff5c97" stroke-width="1.12" stroke-linecap="round" fill="none"/>
<clipPath id="mc4"><path d="M163.69,256.84 C162.78,255.47 162.19,254.01 161.84,252.63 C161.48,251.25 161.41,250.06 161.54,248.55 C161.67,247.04 161.99,245.17 162.63,243.55 C163.27,241.93 164.1,240.44 165.39,238.83 C166.69,237.23 168.53,235.32 170.39,233.91 C172.26,232.51 174.53,231.21 176.58,230.41 C178.63,229.61 180.76,229.14 182.7,229.11 C184.64,229.09 186.65,229.52 188.22,230.25 C189.79,230.97 191.14,232.16 192.11,233.46 C193.09,234.77 193.91,236.56 194.06,238.08 C194.21,239.59 193.76,241.25 193.02,242.55 C192.27,243.86 190.8,245.06 189.59,245.91 C188.38,246.76 186.98,247.14 185.78,247.67 C184.57,248.2 183.31,248.41 182.36,249.09 C181.41,249.77 180.91,250.55 180.07,251.74 C179.23,252.92 178.23,254.8 177.33,256.2 C176.42,257.6 175.65,259.21 174.63,260.15 C173.61,261.08 172.45,261.7 171.22,261.81 C169.99,261.92 168.51,261.63 167.26,260.81 C166,259.98 164.59,258.2 163.69,256.84Z"/></clipPath>
<g clip-path="url(#mc4)" fill="none" stroke-linejoin="round">
<path d="M163.69,256.84 C162.78,255.47 162.19,254.01 161.84,252.63 C161.48,251.25 161.41,250.06 161.54,248.55 C161.67,247.04 161.99,245.17 162.63,243.55 C163.27,241.93 164.1,240.44 165.39,238.83 C166.69,237.23 168.53,235.32 170.39,233.91 C172.26,232.51 174.53,231.21 176.58,230.41 C178.63,229.61 180.76,229.14 182.7,229.11 C184.64,229.09 186.65,229.52 188.22,230.25 C189.79,230.97 191.14,232.16 192.11,233.46 C193.09,234.77 193.91,236.56 194.06,238.08 C194.21,239.59 193.76,241.25 193.02,242.55 C192.27,243.86 190.8,245.06 189.59,245.91 C188.38,246.76 186.98,247.14 185.78,247.67 C184.57,248.2 183.31,248.41 182.36,249.09 C181.41,249.77 180.91,250.55 180.07,251.74 C179.23,252.92 178.23,254.8 177.33,256.2 C176.42,257.6 175.65,259.21 174.63,260.15 C173.61,261.08 172.45,261.7 171.22,261.81 C169.99,261.92 168.51,261.63 167.26,260.81 C166,259.98 164.59,258.2 163.69,256.84Z" fill="#ff5c97"/>
<path d="M163.69,256.84 C162.78,255.47 162.19,254.01 161.84,252.63 C161.48,251.25 161.41,250.06 161.54,248.55 C161.67,247.04 161.99,245.17 162.63,243.55 C163.27,241.93 164.1,240.44 165.39,238.83 C166.69,237.23 168.53,235.32 170.39,233.91 C172.26,232.51 174.53,231.21 176.58,230.41 C178.63,229.61 180.76,229.14 182.7,229.11 C184.64,229.09 186.65,229.52 188.22,230.25 C189.79,230.97 191.14,232.16 192.11,233.46 C193.09,234.77 193.91,236.56 194.06,238.08 C194.21,239.59 193.76,241.25 193.02,242.55 C192.27,243.86 190.8,245.06 189.59,245.91 C188.38,246.76 186.98,247.14 185.78,247.67 C184.57,248.2 183.31,248.41 182.36,249.09 C181.41,249.77 180.91,250.55 180.07,251.74 C179.23,252.92 178.23,254.8 177.33,256.2 C176.42,257.6 175.65,259.21 174.63,260.15 C173.61,261.08 172.45,261.7 171.22,261.81 C169.99,261.92 168.51,261.63 167.26,260.81 C166,259.98 164.59,258.2 163.69,256.84Z" stroke="#000" stroke-width="8.43"/>
<path d="M163.69,256.84 C162.78,255.47 162.19,254.01 161.84,252.63 C161.48,251.25 161.41,250.06 161.54,248.55 C161.67,247.04 161.99,245.17 162.63,243.55 C163.27,241.93 164.1,240.44 165.39,238.83 C166.69,237.23 168.53,235.32 170.39,233.91 C172.26,232.51 174.53,231.21 176.58,230.41 C178.63,229.61 180.76,229.14 182.7,229.11 C184.64,229.09 186.65,229.52 188.22,230.25 C189.79,230.97 191.14,232.16 192.11,233.46 C193.09,234.77 193.91,236.56 194.06,238.08 C194.21,239.59 193.76,241.25 193.02,242.55 C192.27,243.86 190.8,245.06 189.59,245.91 C188.38,246.76 186.98,247.14 185.78,247.67 C184.57,248.2 183.31,248.41 182.36,249.09 C181.41,249.77 180.91,250.55 180.07,251.74 C179.23,252.92 178.23,254.8 177.33,256.2 C176.42,257.6 175.65,259.21 174.63,260.15 C173.61,261.08 172.45,261.7 171.22,261.81 C169.99,261.92 168.51,261.63 167.26,260.81 C166,259.98 164.59,258.2 163.69,256.84Z" stroke="#e4508a" stroke-width="6.27"/>
<path d="M163.69,256.84 C162.78,255.47 162.19,254.01 161.84,252.63 C161.48,251.25 161.41,250.06 161.54,248.55 C161.67,247.04 161.99,245.17 162.63,243.55 C163.27,241.93 164.1,240.44 165.39,238.83 C166.69,237.23 168.53,235.32 170.39,233.91 C172.26,232.51 174.53,231.21 176.58,230.41 C178.63,229.61 180.76,229.14 182.7,229.11 C184.64,229.09 186.65,229.52 188.22,230.25 C189.79,230.97 191.14,232.16 192.11,233.46 C193.09,234.77 193.91,236.56 194.06,238.08 C194.21,239.59 193.76,241.25 193.02,242.55 C192.27,243.86 190.8,245.06 189.59,245.91 C188.38,246.76 186.98,247.14 185.78,247.67 C184.57,248.2 183.31,248.41 182.36,249.09 C181.41,249.77 180.91,250.55 180.07,251.74 C179.23,252.92 178.23,254.8 177.33,256.2 C176.42,257.6 175.65,259.21 174.63,260.15 C173.61,261.08 172.45,261.7 171.22,261.81 C169.99,261.92 168.51,261.63 167.26,260.81 C166,259.98 164.59,258.2 163.69,256.84Z" stroke="#f3b0c4" stroke-width="3.87"/>
<path d="M163.69,256.84 C162.78,255.47 162.19,254.01 161.84,252.63 C161.48,251.25 161.41,250.06 161.54,248.55 C161.67,247.04 161.99,245.17 162.63,243.55 C163.27,241.93 164.1,240.44 165.39,238.83 C166.69,237.23 168.53,235.32 170.39,233.91 C172.26,232.51 174.53,231.21 176.58,230.41 C178.63,229.61 180.76,229.14 182.7,229.11 C184.64,229.09 186.65,229.52 188.22,230.25 C189.79,230.97 191.14,232.16 192.11,233.46 C193.09,234.77 193.91,236.56 194.06,238.08 C194.21,239.59 193.76,241.25 193.02,242.55 C192.27,243.86 190.8,245.06 189.59,245.91 C188.38,246.76 186.98,247.14 185.78,247.67 C184.57,248.2 183.31,248.41 182.36,249.09 C181.41,249.77 180.91,250.55 180.07,251.74 C179.23,252.92 178.23,254.8 177.33,256.2 C176.42,257.6 175.65,259.21 174.63,260.15 C173.61,261.08 172.45,261.7 171.22,261.81 C169.99,261.92 168.51,261.63 167.26,260.81 C166,259.98 164.59,258.2 163.69,256.84Z" stroke="#000" stroke-width="2.7"/>
</g>
<path d="M168.5,252.68 L169.3,253.5" stroke="#000" stroke-width="2.56" stroke-linecap="round" fill="none"/>
<path d="M168.5,252.68 L169.3,253.5" stroke="#ff5c97" stroke-width="0.85" stroke-linecap="round" fill="none"/>
<path d="M169.65,249.6 L172.13,252.27" stroke="#000" stroke-width="3.59" stroke-linecap="round" fill="none"/>
<path d="M169.65,249.6 L172.13,252.27" stroke="#ff5c97" stroke-width="1.88" stroke-linecap="round" fill="none"/>
<path d="M171.31,246.05 L175.3,250.81" stroke="#000" stroke-width="4.27" stroke-linecap="round" fill="none"/>
<path d="M171.31,246.05 L175.3,250.81" stroke="#ff5c97" stroke-width="2.56" stroke-linecap="round" fill="none"/>
<path d="M173.64,241.32 L177.68,247.08" stroke="#000" stroke-width="6.02" stroke-linecap="round" fill="none"/>
<path d="M173.64,241.32 L177.68,247.08" stroke="#ff5c97" stroke-width="4.31" stroke-linecap="round" fill="none"/>
<path d="M177.32,238.57 L181.17,244.97" stroke="#000" stroke-width="4.99" stroke-linecap="round" fill="none"/>
<path d="M177.32,238.57 L181.17,244.97" stroke="#ff5c97" stroke-width="3.28" stroke-linecap="round" fill="none"/>
<path d="M181.56,237.89 L184.4,243.22" stroke="#000" stroke-width="4.27" stroke-linecap="round" fill="none"/>
<path d="M181.56,237.89 L184.4,243.22" stroke="#ff5c97" stroke-width="2.56" stroke-linecap="round" fill="none"/>
<path d="M185.74,237.61 L187.08,240.23" stroke="#000" stroke-width="3.55" stroke-linecap="round" fill="none"/>
<path d="M185.74,237.61 L187.08,240.23" stroke="#ff5c97" stroke-width="1.84" stroke-linecap="round" fill="none"/>
<path d="M188.42,237.71 L188.87,238.59" stroke="#000" stroke-width="2.56" stroke-linecap="round" fill="none"/>
<path d="M188.42,237.71 L188.87,238.59" stroke="#ff5c97" stroke-width="0.85" stroke-linecap="round" fill="none"/>
<clipPath id="mc5"><path d="M176.86,277.5 C176.15,276.42 175.69,275.27 175.41,274.19 C175.12,273.1 175.07,272.18 175.17,270.99 C175.28,269.8 175.52,268.34 176.03,267.06 C176.53,265.79 177.18,264.62 178.2,263.36 C179.22,262.09 180.66,260.6 182.13,259.49 C183.59,258.39 185.37,257.37 186.98,256.74 C188.59,256.11 190.27,255.74 191.79,255.72 C193.31,255.7 194.89,256.05 196.12,256.62 C197.35,257.19 198.42,258.12 199.18,259.14 C199.95,260.16 200.6,261.57 200.71,262.76 C200.83,263.95 200.48,265.25 199.89,266.28 C199.31,267.3 198.15,268.25 197.2,268.92 C196.25,269.58 195.15,269.88 194.21,270.29 C193.26,270.71 192.27,270.88 191.53,271.41 C190.78,271.95 190.38,272.56 189.72,273.49 C189.06,274.42 188.28,275.9 187.57,277 C186.86,278.1 186.25,279.36 185.45,280.09 C184.65,280.83 183.74,281.31 182.77,281.4 C181.81,281.48 180.65,281.26 179.66,280.61 C178.68,279.96 177.57,278.57 176.86,277.5Z"/></clipPath>
<g clip-path="url(#mc5)" fill="none" stroke-linejoin="round">
<path d="M176.86,277.5 C176.15,276.42 175.69,275.27 175.41,274.19 C175.12,273.1 175.07,272.18 175.17,270.99 C175.28,269.8 175.52,268.34 176.03,267.06 C176.53,265.79 177.18,264.62 178.2,263.36 C179.22,262.09 180.66,260.6 182.13,259.49 C183.59,258.39 185.37,257.37 186.98,256.74 C188.59,256.11 190.27,255.74 191.79,255.72 C193.31,255.7 194.89,256.05 196.12,256.62 C197.35,257.19 198.42,258.12 199.18,259.14 C199.95,260.16 200.6,261.57 200.71,262.76 C200.83,263.95 200.48,265.25 199.89,266.28 C199.31,267.3 198.15,268.25 197.2,268.92 C196.25,269.58 195.15,269.88 194.21,270.29 C193.26,270.71 192.27,270.88 191.53,271.41 C190.78,271.95 190.38,272.56 189.72,273.49 C189.06,274.42 188.28,275.9 187.57,277 C186.86,278.1 186.25,279.36 185.45,280.09 C184.65,280.83 183.74,281.31 182.77,281.4 C181.81,281.48 180.65,281.26 179.66,280.61 C178.68,279.96 177.57,278.57 176.86,277.5Z" fill="#ff5c97"/>
<path d="M176.86,277.5 C176.15,276.42 175.69,275.27 175.41,274.19 C175.12,273.1 175.07,272.18 175.17,270.99 C175.28,269.8 175.52,268.34 176.03,267.06 C176.53,265.79 177.18,264.62 178.2,263.36 C179.22,262.09 180.66,260.6 182.13,259.49 C183.59,258.39 185.37,257.37 186.98,256.74 C188.59,256.11 190.27,255.74 191.79,255.72 C193.31,255.7 194.89,256.05 196.12,256.62 C197.35,257.19 198.42,258.12 199.18,259.14 C199.95,260.16 200.6,261.57 200.71,262.76 C200.83,263.95 200.48,265.25 199.89,266.28 C199.31,267.3 198.15,268.25 197.2,268.92 C196.25,269.58 195.15,269.88 194.21,270.29 C193.26,270.71 192.27,270.88 191.53,271.41 C190.78,271.95 190.38,272.56 189.72,273.49 C189.06,274.42 188.28,275.9 187.57,277 C186.86,278.1 186.25,279.36 185.45,280.09 C184.65,280.83 183.74,281.31 182.77,281.4 C181.81,281.48 180.65,281.26 179.66,280.61 C178.68,279.96 177.57,278.57 176.86,277.5Z" stroke="#000" stroke-width="7.32"/>
<path d="M176.86,277.5 C176.15,276.42 175.69,275.27 175.41,274.19 C175.12,273.1 175.07,272.18 175.17,270.99 C175.28,269.8 175.52,268.34 176.03,267.06 C176.53,265.79 177.18,264.62 178.2,263.36 C179.22,262.09 180.66,260.6 182.13,259.49 C183.59,258.39 185.37,257.37 186.98,256.74 C188.59,256.11 190.27,255.74 191.79,255.72 C193.31,255.7 194.89,256.05 196.12,256.62 C197.35,257.19 198.42,258.12 199.18,259.14 C199.95,260.16 200.6,261.57 200.71,262.76 C200.83,263.95 200.48,265.25 199.89,266.28 C199.31,267.3 198.15,268.25 197.2,268.92 C196.25,269.58 195.15,269.88 194.21,270.29 C193.26,270.71 192.27,270.88 191.53,271.41 C190.78,271.95 190.38,272.56 189.72,273.49 C189.06,274.42 188.28,275.9 187.57,277 C186.86,278.1 186.25,279.36 185.45,280.09 C184.65,280.83 183.74,281.31 182.77,281.4 C181.81,281.48 180.65,281.26 179.66,280.61 C178.68,279.96 177.57,278.57 176.86,277.5Z" stroke="#e4508a" stroke-width="5.52"/>
<path d="M176.86,277.5 C176.15,276.42 175.69,275.27 175.41,274.19 C175.12,273.1 175.07,272.18 175.17,270.99 C175.28,269.8 175.52,268.34 176.03,267.06 C176.53,265.79 177.18,264.62 178.2,263.36 C179.22,262.09 180.66,260.6 182.13,259.49 C183.59,258.39 185.37,257.37 186.98,256.74 C188.59,256.11 190.27,255.74 191.79,255.72 C193.31,255.7 194.89,256.05 196.12,256.62 C197.35,257.19 198.42,258.12 199.18,259.14 C199.95,260.16 200.6,261.57 200.71,262.76 C200.83,263.95 200.48,265.25 199.89,266.28 C199.31,267.3 198.15,268.25 197.2,268.92 C196.25,269.58 195.15,269.88 194.21,270.29 C193.26,270.71 192.27,270.88 191.53,271.41 C190.78,271.95 190.38,272.56 189.72,273.49 C189.06,274.42 188.28,275.9 187.57,277 C186.86,278.1 186.25,279.36 185.45,280.09 C184.65,280.83 183.74,281.31 182.77,281.4 C181.81,281.48 180.65,281.26 179.66,280.61 C178.68,279.96 177.57,278.57 176.86,277.5Z" stroke="#f3b0c4" stroke-width="3.12"/>
<path d="M176.86,277.5 C176.15,276.42 175.69,275.27 175.41,274.19 C175.12,273.1 175.07,272.18 175.17,270.99 C175.28,269.8 175.52,268.34 176.03,267.06 C176.53,265.79 177.18,264.62 178.2,263.36 C179.22,262.09 180.66,260.6 182.13,259.49 C183.59,258.39 185.37,257.37 186.98,256.74 C188.59,256.11 190.27,255.74 191.79,255.72 C193.31,255.7 194.89,256.05 196.12,256.62 C197.35,257.19 198.42,258.12 199.18,259.14 C199.95,260.16 200.6,261.57 200.71,262.76 C200.83,263.95 200.48,265.25 199.89,266.28 C199.31,267.3 198.15,268.25 197.2,268.92 C196.25,269.58 195.15,269.88 194.21,270.29 C193.26,270.71 192.27,270.88 191.53,271.41 C190.78,271.95 190.38,272.56 189.72,273.49 C189.06,274.42 188.28,275.9 187.57,277 C186.86,278.1 186.25,279.36 185.45,280.09 C184.65,280.83 183.74,281.31 182.77,281.4 C181.81,281.48 180.65,281.26 179.66,280.61 C178.68,279.96 177.57,278.57 176.86,277.5Z" stroke="#000" stroke-width="2.12"/>
</g>
<path d="M180.64,274.23 L181.26,274.87" stroke="#000" stroke-width="2.09" stroke-linecap="round" fill="none"/>
<path d="M180.64,274.23 L181.26,274.87" stroke="#ff5c97" stroke-width="0.59" stroke-linecap="round" fill="none"/>
<path d="M181.54,271.82 L183.49,273.91" stroke="#000" stroke-width="2.9" stroke-linecap="round" fill="none"/>
<path d="M181.54,271.82 L183.49,273.91" stroke="#ff5c97" stroke-width="1.4" stroke-linecap="round" fill="none"/>
<path d="M182.84,269.02 L185.98,272.76" stroke="#000" stroke-width="3.43" stroke-linecap="round" fill="none"/>
<path d="M182.84,269.02 L185.98,272.76" stroke="#ff5c97" stroke-width="1.93" stroke-linecap="round" fill="none"/>
<path d="M184.68,265.31 L187.84,269.83" stroke="#000" stroke-width="4.8" stroke-linecap="round" fill="none"/>
<path d="M184.68,265.31 L187.84,269.83" stroke="#ff5c97" stroke-width="3.3" stroke-linecap="round" fill="none"/>
<path d="M187.56,263.15 L190.59,268.18" stroke="#000" stroke-width="3.99" stroke-linecap="round" fill="none"/>
<path d="M187.56,263.15 L190.59,268.18" stroke="#ff5c97" stroke-width="2.49" stroke-linecap="round" fill="none"/>
<path d="M190.9,262.62 L193.12,266.8" stroke="#000" stroke-width="3.43" stroke-linecap="round" fill="none"/>
<path d="M190.9,262.62 L193.12,266.8" stroke="#ff5c97" stroke-width="1.93" stroke-linecap="round" fill="none"/>
<path d="M194.18,262.4 L195.23,264.46" stroke="#000" stroke-width="2.87" stroke-linecap="round" fill="none"/>
<path d="M194.18,262.4 L195.23,264.46" stroke="#ff5c97" stroke-width="1.37" stroke-linecap="round" fill="none"/>
<path d="M196.28,262.47 L196.64,263.17" stroke="#000" stroke-width="2.09" stroke-linecap="round" fill="none"/>
<path d="M196.28,262.47 L196.64,263.17" stroke="#ff5c97" stroke-width="0.59" stroke-linecap="round" fill="none"/>
<circle cx="233.8" cy="281.2" r="26.9" fill="url(#gdg)" stroke="#000" stroke-width="2.4"/>
<text x="222.3" y="286.3" font-size="12.5" font-weight="bold" text-anchor="start">Gd</text><text x="239.6" y="281.6" font-size="5.5" font-weight="bold" text-anchor="start">3+</text>
<path d="M259.3,253 C257.5,246.5 268,243.5 281,246 C293,248.5 304.5,256 305.5,264.5 C306.3,273 297,288 290,293 C286,296 283,293 279,288 C272,279 261,262 259.3,253 Z" fill="#f8955f" stroke="#000" stroke-width="1.5"/>
<text x="247.6" y="330.8" font-size="11.25" text-anchor="middle" font-weight="bold" >Mouse Renal Proximal Tubule</text>
<text x="247.6" y="343.9" font-size="11.25" text-anchor="middle" font-weight="bold" >Epithelial Cell</text>
<circle cx="409.7" cy="204.8" r="39.3" fill="#1ee08c" stroke="#000" stroke-width="1"/>
<circle cx="409.7" cy="204.8" r="34.8" fill="#c8f7c8" stroke="#000" stroke-width="1"/>
<polygon points="414.87,184.91 412.65,180.37 413.25,179.49 414.28,180.22 415.06,179.97 415.97,179.53 416.9,179.63 417.26,180.84 418.03,181.11 419.03,181.32 419.7,181.96 419.55,183.02" fill="#f0c0fa"/>
<path d="M414.87,184.91 L422.36,181.88 A8.08,8.08 0 1 1 411.33,177.65 Z" fill="#ff99cc" stroke="#3a1a2a" stroke-width="0.7" stroke-linejoin="miter"/>
<polygon points="388.75,205.4 389.89,200.47 390.88,200.16 391.2,201.36 391.95,201.63 392.92,201.82 393.58,202.44 393.12,203.6 393.56,204.26 394.23,205 394.39,205.88 393.65,206.62" fill="#f0c0fa"/>
<path d="M388.75,205.4 L396.59,207.35 A8.08,8.08 0 1 1 390.57,197.53 Z" fill="#ff99cc" stroke="#3a1a2a" stroke-width="0.7" stroke-linejoin="miter"/>
<polygon points="420.04,220.26 415.04,221.05 414.38,220.22 415.38,219.45 415.37,218.63 415.21,217.63 415.58,216.77 416.84,216.78 417.33,216.12 417.82,215.23 418.63,214.78 419.6,215.22" fill="#f0c0fa"/>
<path d="M420.04,220.26 L419.33,212.21 A8.08,8.08 0 1 1 412.06,221.52 Z" fill="#ff99cc" stroke="#3a1a2a" stroke-width="0.7" stroke-linejoin="miter"/>
<polygon points="396.55,188.33 392.89,188.52 392.49,187.71 393.33,187.14 393.5,186.43 393.66,185.58 394.2,184.96 395.2,185.18 395.83,184.81 396.55,184.66" fill="#fbb98c"/>
<path d="M396.55,188.33 L396.55,182.29 A6.04,6.04 0 1 1 390.52,188.64 Z" fill="#ff6600" stroke="#3a1500" stroke-width="0.7" stroke-linejoin="miter"/>
<polygon points="428.43,202.35 425.75,204.85 424.91,204.45 425.19,203.44 424.87,202.74 424.47,201.94 424.54,201.07 425.48,200.62 425.8,199.92 426.33,199.35" fill="#fbb98c"/>
<path d="M428.43,202.35 L424.97,197.41 A6.04,6.04 0 1 1 424.02,206.47 Z" fill="#ff6600" stroke="#3a1500" stroke-width="0.7" stroke-linejoin="miter"/>
<polygon points="399.73,222.93 401.22,226.28 400.58,226.95 399.72,226.36 398.96,226.44 398.08,226.56 397.28,226.23 397.16,225.19 396.6,224.68 396.23,224.01" fill="#fbb98c"/>
<path d="M399.73,222.93 L393.96,224.7 A6.04,6.04 0 1 1 402.19,228.45 Z" fill="#ff6600" stroke="#3a1500" stroke-width="0.7" stroke-linejoin="miter"/>
<polygon points="403.7,200.19 401.74,200.94 401.38,200.54 401.74,200.06 401.73,199.62 401.7,199.1 401.92,198.65 402.53,198.61 402.85,198.32 403.26,198.13" fill="#fff2a0"/>
<path d="M403.7,200.19 L402.91,196.47 A3.8,3.8 0 1 1 400.15,201.55 Z" fill="#ffff00" stroke="#4a4400" stroke-width="0.7" stroke-linejoin="miter"/>
<polygon points="412.28,208.49 414.19,207.6 414.56,207.92 414.24,208.39 414.32,208.78 414.44,209.23 414.32,209.67 413.76,209.78 413.55,210.11 413.24,210.36" fill="#fff2a0"/>
<path d="M412.28,208.49 L414.01,211.88 A3.8,3.8 0 1 1 415.73,206.88 Z" fill="#ffff00" stroke="#4a4400" stroke-width="0.7" stroke-linejoin="miter"/>
<text x="411.2" y="265" font-size="11.1" text-anchor="middle" font-weight="bold" >Normal</text>
<text x="411.4" y="278.8" font-size="11.1" text-anchor="middle" font-weight="bold" >Lysosome</text>
<circle cx="600" cy="205" r="85.5" fill="#1ee08c" stroke="#000" stroke-width="1.6"/>
<circle cx="600" cy="205" r="76.5" fill="#c8f7c8" stroke="#000" stroke-width="1.6"/>
<polygon points="611.2,161.9 606.54,152.34 607.8,150.49 609.95,152.04 611.6,151.5 613.52,150.58 615.47,150.78 616.23,153.33 617.86,153.91 619.95,154.35 621.36,155.7 621.06,157.92" fill="#f0c0fa"/>
<path d="M611.2,161.9 L626.96,155.53 A17,17 0 1 1 603.75,146.62 Z" fill="#ff99cc" stroke="#3a1a2a" stroke-width="1.2" stroke-linejoin="miter"/>
<polygon points="554.6,206.3 556.99,195.94 559.08,195.27 559.75,197.8 561.33,198.37 563.38,198.78 564.75,200.08 563.79,202.51 564.72,203.91 566.13,205.45 566.46,207.32 564.92,208.87" fill="#f0c0fa"/>
<path d="M554.6,206.3 L571.1,210.41 A17,17 0 1 1 558.42,189.74 Z" fill="#ff99cc" stroke="#3a1a2a" stroke-width="1.2" stroke-linejoin="miter"/>
<polygon points="622.4,238.5 611.9,240.16 610.49,238.42 612.6,236.81 612.57,235.08 612.25,232.97 613.02,231.17 615.67,231.18 616.7,229.79 617.74,227.92 619.44,226.97 621.47,227.91" fill="#f0c0fa"/>
<path d="M622.4,238.5 L620.92,221.56 A17,17 0 1 1 605.61,241.16 Z" fill="#ff99cc" stroke="#3a1a2a" stroke-width="1.2" stroke-linejoin="miter"/>
<polygon points="571.5,169.3 563.8,169.7 562.96,168.01 564.74,166.81 565.09,165.32 565.42,163.53 566.56,162.22 568.65,162.68 569.98,161.91 571.5,161.59" fill="#fbb98c"/>
<path d="M571.5,169.3 L571.5,156.6 A12.7,12.7 0 1 1 558.82,169.96 Z" fill="#ff6600" stroke="#3a1500" stroke-width="1.2" stroke-linejoin="miter"/>
<polygon points="640.6,199.7 634.96,204.96 633.18,204.11 633.76,201.99 633.1,200.52 632.26,198.82 632.4,197 634.39,196.04 635.06,194.58 636.18,193.38" fill="#fbb98c"/>
<path d="M640.6,199.7 L633.32,189.3 A12.7,12.7 0 1 1 631.31,208.36 Z" fill="#ff6600" stroke="#3a1500" stroke-width="1.2" stroke-linejoin="miter"/>
<polygon points="578.4,244.3 581.54,251.34 580.18,252.75 578.37,251.51 576.78,251.67 574.92,251.93 573.25,251.23 572.98,249.05 571.81,247.97 571.03,246.55" fill="#fbb98c"/>
<path d="M578.4,244.3 L566.25,248.01 A12.7,12.7 0 1 1 583.57,255.9 Z" fill="#ff6600" stroke="#3a1500" stroke-width="1.2" stroke-linejoin="miter"/>
<polygon points="587,195 582.88,196.58 582.11,195.74 582.88,194.73 582.85,193.8 582.78,192.71 583.26,191.76 584.53,191.69 585.22,191.07 586.08,190.68" fill="#fff2a0"/>
<path d="M587,195 L585.34,187.17 A8,8 0 1 1 579.53,197.87 Z" fill="#ffff00" stroke="#4a4400" stroke-width="1.2" stroke-linejoin="miter"/>
<polygon points="605.6,213 609.6,211.13 610.4,211.8 609.72,212.78 609.88,213.6 610.14,214.56 609.88,215.47 608.72,215.71 608.26,216.4 607.6,216.93" fill="#fff2a0"/>
<path d="M605.6,213 L609.23,220.13 A8,8 0 1 1 612.85,209.62 Z" fill="#ffff00" stroke="#4a4400" stroke-width="1.2" stroke-linejoin="miter"/>
<text x="596.5" y="266.7" font-size="11.25" text-anchor="middle" font-weight="bold" >Cathepsins</text>
<text x="597.5" y="305" font-size="11.25" text-anchor="middle" font-weight="bold" >GBCA-induced</text>
<text x="597.5" y="319.2" font-size="11.25" text-anchor="middle" font-weight="bold" >Lysosomal</text>
<g clip-path="url(#clipEnl)">
<text x="597.5" y="332.5" font-size="11.25" text-anchor="middle" font-weight="bold" >Enlargement</text>
</g>
<path d="M596.3,341.7 L596.3,446" stroke="#000" stroke-width="2.4" fill="none"/>
<path d="M596.3,451.9 L591.4,442 L596.3,444.6 L601.2,442 Z" fill="#000"/>
<polygon points="425.4,421.5 411.28,422.98 410.28,418.47 414.06,418.47 413.56,414.56 417.34,414.56 416.84,410.65 420.63,410.65 420.13,406.73 423.91,406.73" fill="#c9a0f5" stroke="#444" stroke-width="0.6"/>
<path d="M425.4,421.5 L424.01,401.65 A19.9,19.9 0 1 1 405.61,423.58 Z" fill="#5a00cc" stroke="#000" stroke-width="2.4" stroke-linejoin="miter"/>
<circle cx="472.2" cy="463.7" r="16.8" fill="#a050c8" stroke="#000" stroke-width="2"/>
<path d="M452.6,424.2 L471,424.2 L471,440.5 M465.73,434.22 L471,440.5 L476.27,434.22" fill="none" stroke="#444" stroke-width="3.2" stroke-linecap="butt" stroke-linejoin="miter"/>
<path d="M450.2,460.4 L432,460.4 L432,444 M437.27,450.28 L432,444 L426.73,450.28" fill="none" stroke="#858585" stroke-width="3.2" stroke-linecap="butt" stroke-linejoin="miter"/>
<circle cx="567.65" cy="569" r="75.1" fill="#bfff33"/>
<circle cx="567.7" cy="569" r="66.6" fill="#c4fb9a"/>
<circle cx="567.65" cy="569" r="74.05" fill="none" stroke="#000" stroke-width="2.2" stroke-dasharray="19.3 7.4" transform="rotate(4.4 567.65 569)"/>
<circle cx="567.75" cy="569" r="67.1" fill="none" stroke="#000" stroke-width="2.2" stroke-dasharray="19.0 7.65" transform="rotate(4.7 567.75 569)"/>
<polygon points="614.7,490 608.7,487.07 608.83,485.37 610.73,485.18 611.71,484.19 612.82,482.99 614.34,482.53 615.73,483.84 617.12,483.93 618.43,484.46" fill="#fbb98c"/>
<path d="M614.7,490 L620.85,480.88 A11,11 0 1 1 604.81,485.18 Z" fill="#ff6600" stroke="#3a1500" stroke-width="1.2" stroke-linejoin="miter"/>
<polygon points="578.7,520.8 573.87,512.76 574.9,511.01 576.97,512.2 578.44,511.62 580.15,510.7 581.95,510.81 582.79,513.04 584.3,513.53 586.21,513.9 587.53,515.11 587.34,517.13" fill="#f0c0fa"/>
<path d="M578.7,520.8 L592.51,514.94 A15,15 0 1 1 570.97,507.94 Z" fill="#ff99cc" stroke="#3a1a2a" stroke-width="1.2" stroke-linejoin="miter"/>
<polygon points="604.1,564.2 599.01,567.51 597.84,566.84 598.56,565.45 598.17,564.47 597.56,563.34 597.62,562.14 599.08,561.56 599.41,560.55 600.04,559.69" fill="#fbb98c"/>
<path d="M604.1,564.2 L597.41,556.77 A10,10 0 1 1 595.71,569.65 Z" fill="#ff6600" stroke="#3a1500" stroke-width="1.2" stroke-linejoin="miter"/>
<polygon points="667.5,569.7 671.06,567.81 671.85,568.51 671.26,569.54 671.38,570.4 671.53,571.41 671.16,572.34 670,572.52 669.4,573.16 668.61,573.57" fill="#fff2a0"/>
<path d="M667.5,569.7 L669.51,576.72 A7.3,7.3 0 1 1 673.95,566.27 Z" fill="#ffff00" stroke="#4a4400" stroke-width="1.2" stroke-linejoin="miter"/>
<polygon points="536.6,583.1 533.09,591.53 531.18,591.77 530.95,589.5 529.68,588.75 527.98,588.03 527.02,586.66 528.22,584.73 527.67,583.35 526.76,581.75 526.83,580.08 528.43,579.01" fill="#f0c0fa"/>
<path d="M536.6,583.1 L523.55,576.56 A14.6,14.6 0 1 1 530.99,596.58 Z" fill="#ff99cc" stroke="#3a1a2a" stroke-width="1.2" stroke-linejoin="miter"/>
<polygon points="588.1,598.2 579.06,599.47 577.88,597.95 579.71,596.6 579.71,595.11 579.47,593.3 580.15,591.76 582.43,591.82 583.34,590.64 584.25,589.05 585.73,588.25 587.46,589.09" fill="#f0c0fa"/>
<path d="M588.1,598.2 L587.08,583.64 A14.6,14.6 0 1 1 573.64,600.23 Z" fill="#ff99cc" stroke="#3a1a2a" stroke-width="1.2" stroke-linejoin="miter"/>
<polygon points="623,612.8 626.17,610.58 627.01,611.17 626.57,612.22 626.77,613.04 627.03,613.99 626.77,614.92 625.67,615.23 625.16,615.9 624.45,616.38" fill="#fff2a0"/>
<path d="M623,612.8 L625.62,619.29 A7,7 0 1 1 628.73,608.78 Z" fill="#ffff00" stroke="#4a4400" stroke-width="1.2" stroke-linejoin="miter"/>
<polygon points="541.8,638.5 544.29,644.5 543.07,645.66 541.55,644.57 540.18,644.64 538.57,644.78 537.15,644.1 537.01,642.23 536.06,641.23 535.47,639.96" fill="#fbb98c"/>
<path d="M541.8,638.5 L531.37,640.91 A10.7,10.7 0 1 1 545.89,648.39 Z" fill="#ff6600" stroke="#3a1500" stroke-width="1.2" stroke-linejoin="miter"/>
<polygon points="528.3,530 521.81,530.91 520.98,529.46 522.42,528.26 522.68,526.91 522.92,525.32 523.91,524.12 525.76,524.42 526.94,523.73 528.3,523.44" fill="#fbb98c"/>
<path d="M528.3,530 L528.3,519.2 A10.8,10.8 0 1 1 517.61,531.5 Z" fill="#ff6600" stroke="#3a1500" stroke-width="1.2" stroke-linejoin="miter"/>
<polygon points="488.2,540.8 484.66,542.6 483.87,541.83 484.48,540.78 484.43,539.87 484.37,538.81 484.85,537.87 486.06,537.77 486.77,537.19 487.65,536.86" fill="#fff2a0"/>
<path d="M488.2,540.8 L487.2,533.67 A7.2,7.2 0 1 1 481.78,544.07 Z" fill="#ffff00" stroke="#4a4400" stroke-width="1.2" stroke-linejoin="miter"/>
<text x="522.2" y="427.3" font-size="11.2" text-anchor="middle" font-weight="bold" >Altered</text>
<text x="522.2" y="440.85" font-size="11.2" text-anchor="middle" font-weight="bold" >Cathepsin</text>
<text x="522.2" y="454.4" font-size="11.2" text-anchor="middle" font-weight="bold" >Processing</text>
<text x="522.2" y="467.95" font-size="11.2" text-anchor="middle" font-weight="bold" >and</text>
<text x="522.2" y="481.5" font-size="11.2" text-anchor="middle" font-weight="bold" >Activity</text>
<text x="420.5" y="555.6" font-size="11" text-anchor="middle" font-weight="bold" >Selective</text>
<text x="420.5" y="569.25" font-size="11" text-anchor="middle" font-weight="bold" >Release of</text>
<text x="420.5" y="582.9" font-size="11" text-anchor="middle" font-weight="bold" >Lysosomal</text>
<text x="420.5" y="596.55" font-size="11" text-anchor="middle" font-weight="bold" >Proteases</text>
<text x="656.7" y="635.8" font-size="13" text-anchor="middle" font-weight="bold" >Lysosomal</text>
<text x="656.7" y="651.5" font-size="13" text-anchor="middle" font-weight="bold" >Membrane</text>
<text x="656.7" y="667.2" font-size="13" text-anchor="middle" font-weight="bold" >Permeabilization</text>
<path d="M426.9,604.4 L317.6,604.4 M325.57,599.23 L317.6,604.4 L325.57,609.57" fill="none" stroke="#000" stroke-width="2.4" stroke-linecap="round" stroke-linejoin="miter"/>
<text x="74.9" y="401.6" font-size="13" text-anchor="middle" font-weight="bold" >Restored Cellular</text>
<text x="74.9" y="416.6" font-size="13" text-anchor="middle" font-weight="bold" >Function</text>
<text x="49.6" y="580.8" font-size="11.05" text-anchor="middle" font-weight="bold" >Mitochondria</text>
<text x="204.8" y="657.5" font-size="12.8" text-anchor="middle" font-weight="bold" >Injury</text>
<text x="285.4" y="415" font-size="11" text-anchor="middle" font-weight="bold" >Lysosomal</text>
<text x="285.4" y="428.4" font-size="11" text-anchor="middle" font-weight="bold" >Protease</text>
<text x="285.4" y="441.8" font-size="11" text-anchor="middle" font-weight="bold" >Inhibitors</text>
<path d="M247,539.2 L170,492 M179.5,491.75 L170,492 L174.09,500.58" fill="none" stroke="#000" stroke-width="2.4" stroke-linecap="round" stroke-linejoin="miter"/>
<path d="M234.7,629 L161.5,640.7 M168.55,634.33 L161.5,640.7 L170.18,644.55" fill="none" stroke="#000" stroke-width="2.4" stroke-linecap="round" stroke-linejoin="miter"/>
<path d="M259.5,443.7 L220.5,507.5 M208.7,501.2 L230.5,514.5" stroke="#f8146e" stroke-width="2.6" fill="none"/>
<clipPath id="mc6"><path d="M62.5,487.62 C60.49,484.59 59.18,481.33 58.38,478.26 C57.59,475.19 57.43,472.57 57.72,469.21 C58.02,465.84 58.72,461.7 60.15,458.1 C61.57,454.5 63.41,451.17 66.29,447.6 C69.17,444.03 73.26,439.79 77.41,436.67 C81.55,433.55 86.59,430.65 91.15,428.87 C95.71,427.1 100.45,426.06 104.76,426 C109.07,425.94 113.53,426.91 117.02,428.52 C120.51,430.14 123.52,432.77 125.69,435.67 C127.85,438.57 129.68,442.55 130.01,445.92 C130.35,449.29 129.35,452.97 127.69,455.88 C126.04,458.78 122.75,461.44 120.07,463.34 C117.39,465.23 114.28,466.06 111.6,467.24 C108.92,468.42 106.12,468.9 104.01,470.41 C101.89,471.92 100.77,473.66 98.91,476.29 C97.04,478.93 94.83,483.1 92.81,486.21 C90.8,489.33 89.08,492.9 86.82,494.98 C84.56,497.05 81.97,498.42 79.24,498.67 C76.51,498.91 73.23,498.29 70.44,496.45 C67.64,494.61 64.51,490.65 62.5,487.62Z"/></clipPath>
<g clip-path="url(#mc6)" fill="none" stroke-linejoin="round">
<path d="M62.5,487.62 C60.49,484.59 59.18,481.33 58.38,478.26 C57.59,475.19 57.43,472.57 57.72,469.21 C58.02,465.84 58.72,461.7 60.15,458.1 C61.57,454.5 63.41,451.17 66.29,447.6 C69.17,444.03 73.26,439.79 77.41,436.67 C81.55,433.55 86.59,430.65 91.15,428.87 C95.71,427.1 100.45,426.06 104.76,426 C109.07,425.94 113.53,426.91 117.02,428.52 C120.51,430.14 123.52,432.77 125.69,435.67 C127.85,438.57 129.68,442.55 130.01,445.92 C130.35,449.29 129.35,452.97 127.69,455.88 C126.04,458.78 122.75,461.44 120.07,463.34 C117.39,465.23 114.28,466.06 111.6,467.24 C108.92,468.42 106.12,468.9 104.01,470.41 C101.89,471.92 100.77,473.66 98.91,476.29 C97.04,478.93 94.83,483.1 92.81,486.21 C90.8,489.33 89.08,492.9 86.82,494.98 C84.56,497.05 81.97,498.42 79.24,498.67 C76.51,498.91 73.23,498.29 70.44,496.45 C67.64,494.61 64.51,490.65 62.5,487.62Z" fill="#ff5c97"/>
<path d="M62.5,487.62 C60.49,484.59 59.18,481.33 58.38,478.26 C57.59,475.19 57.43,472.57 57.72,469.21 C58.02,465.84 58.72,461.7 60.15,458.1 C61.57,454.5 63.41,451.17 66.29,447.6 C69.17,444.03 73.26,439.79 77.41,436.67 C81.55,433.55 86.59,430.65 91.15,428.87 C95.71,427.1 100.45,426.06 104.76,426 C109.07,425.94 113.53,426.91 117.02,428.52 C120.51,430.14 123.52,432.77 125.69,435.67 C127.85,438.57 129.68,442.55 130.01,445.92 C130.35,449.29 129.35,452.97 127.69,455.88 C126.04,458.78 122.75,461.44 120.07,463.34 C117.39,465.23 114.28,466.06 111.6,467.24 C108.92,468.42 106.12,468.9 104.01,470.41 C101.89,471.92 100.77,473.66 98.91,476.29 C97.04,478.93 94.83,483.1 92.81,486.21 C90.8,489.33 89.08,492.9 86.82,494.98 C84.56,497.05 81.97,498.42 79.24,498.67 C76.51,498.91 73.23,498.29 70.44,496.45 C67.64,494.61 64.51,490.65 62.5,487.62Z" stroke="#000" stroke-width="18.6"/>
<path d="M62.5,487.62 C60.49,484.59 59.18,481.33 58.38,478.26 C57.59,475.19 57.43,472.57 57.72,469.21 C58.02,465.84 58.72,461.7 60.15,458.1 C61.57,454.5 63.41,451.17 66.29,447.6 C69.17,444.03 73.26,439.79 77.41,436.67 C81.55,433.55 86.59,430.65 91.15,428.87 C95.71,427.1 100.45,426.06 104.76,426 C109.07,425.94 113.53,426.91 117.02,428.52 C120.51,430.14 123.52,432.77 125.69,435.67 C127.85,438.57 129.68,442.55 130.01,445.92 C130.35,449.29 129.35,452.97 127.69,455.88 C126.04,458.78 122.75,461.44 120.07,463.34 C117.39,465.23 114.28,466.06 111.6,467.24 C108.92,468.42 106.12,468.9 104.01,470.41 C101.89,471.92 100.77,473.66 98.91,476.29 C97.04,478.93 94.83,483.1 92.81,486.21 C90.8,489.33 89.08,492.9 86.82,494.98 C84.56,497.05 81.97,498.42 79.24,498.67 C76.51,498.91 73.23,498.29 70.44,496.45 C67.64,494.61 64.51,490.65 62.5,487.62Z" stroke="#e4508a" stroke-width="13.8"/>
<path d="M62.5,487.62 C60.49,484.59 59.18,481.33 58.38,478.26 C57.59,475.19 57.43,472.57 57.72,469.21 C58.02,465.84 58.72,461.7 60.15,458.1 C61.57,454.5 63.41,451.17 66.29,447.6 C69.17,444.03 73.26,439.79 77.41,436.67 C81.55,433.55 86.59,430.65 91.15,428.87 C95.71,427.1 100.45,426.06 104.76,426 C109.07,425.94 113.53,426.91 117.02,428.52 C120.51,430.14 123.52,432.77 125.69,435.67 C127.85,438.57 129.68,442.55 130.01,445.92 C130.35,449.29 129.35,452.97 127.69,455.88 C126.04,458.78 122.75,461.44 120.07,463.34 C117.39,465.23 114.28,466.06 111.6,467.24 C108.92,468.42 106.12,468.9 104.01,470.41 C101.89,471.92 100.77,473.66 98.91,476.29 C97.04,478.93 94.83,483.1 92.81,486.21 C90.8,489.33 89.08,492.9 86.82,494.98 C84.56,497.05 81.97,498.42 79.24,498.67 C76.51,498.91 73.23,498.29 70.44,496.45 C67.64,494.61 64.51,490.65 62.5,487.62Z" stroke="#fff0f5" stroke-width="8.6"/>
<path d="M62.5,487.62 C60.49,484.59 59.18,481.33 58.38,478.26 C57.59,475.19 57.43,472.57 57.72,469.21 C58.02,465.84 58.72,461.7 60.15,458.1 C61.57,454.5 63.41,451.17 66.29,447.6 C69.17,444.03 73.26,439.79 77.41,436.67 C81.55,433.55 86.59,430.65 91.15,428.87 C95.71,427.1 100.45,426.06 104.76,426 C109.07,425.94 113.53,426.91 117.02,428.52 C120.51,430.14 123.52,432.77 125.69,435.67 C127.85,438.57 129.68,442.55 130.01,445.92 C130.35,449.29 129.35,452.97 127.69,455.88 C126.04,458.78 122.75,461.44 120.07,463.34 C117.39,465.23 114.28,466.06 111.6,467.24 C108.92,468.42 106.12,468.9 104.01,470.41 C101.89,471.92 100.77,473.66 98.91,476.29 C97.04,478.93 94.83,483.1 92.81,486.21 C90.8,489.33 89.08,492.9 86.82,494.98 C84.56,497.05 81.97,498.42 79.24,498.67 C76.51,498.91 73.23,498.29 70.44,496.45 C67.64,494.61 64.51,490.65 62.5,487.62Z" stroke="#000" stroke-width="6"/>
</g>
<path d="M73.2,478.38 L74.97,480.2" stroke="#000" stroke-width="5.69" stroke-linecap="round" fill="none"/>
<path d="M73.2,478.38 L74.97,480.2" stroke="#ff5c97" stroke-width="1.89" stroke-linecap="round" fill="none"/>
<path d="M75.75,471.55 L81.27,477.47" stroke="#000" stroke-width="7.99" stroke-linecap="round" fill="none"/>
<path d="M75.75,471.55 L81.27,477.47" stroke="#ff5c97" stroke-width="4.19" stroke-linecap="round" fill="none"/>
<path d="M79.43,463.64 L88.32,474.23" stroke="#000" stroke-width="9.48" stroke-linecap="round" fill="none"/>
<path d="M79.43,463.64 L88.32,474.23" stroke="#ff5c97" stroke-width="5.68" stroke-linecap="round" fill="none"/>
<path d="M84.63,453.13 L93.59,465.93" stroke="#000" stroke-width="13.38" stroke-linecap="round" fill="none"/>
<path d="M84.63,453.13 L93.59,465.93" stroke="#ff5c97" stroke-width="9.58" stroke-linecap="round" fill="none"/>
<path d="M92.8,447.01 L101.35,461.24" stroke="#000" stroke-width="11.08" stroke-linecap="round" fill="none"/>
<path d="M92.8,447.01 L101.35,461.24" stroke="#ff5c97" stroke-width="7.28" stroke-linecap="round" fill="none"/>
<path d="M102.23,445.51 L108.53,457.35" stroke="#000" stroke-width="9.48" stroke-linecap="round" fill="none"/>
<path d="M102.23,445.51 L108.53,457.35" stroke="#ff5c97" stroke-width="5.68" stroke-linecap="round" fill="none"/>
<path d="M111.53,444.88 L114.5,450.71" stroke="#000" stroke-width="7.89" stroke-linecap="round" fill="none"/>
<path d="M111.53,444.88 L114.5,450.71" stroke="#ff5c97" stroke-width="4.09" stroke-linecap="round" fill="none"/>
<path d="M117.48,445.1 L118.48,447.07" stroke="#000" stroke-width="5.69" stroke-linecap="round" fill="none"/>
<path d="M117.48,445.1 L118.48,447.07" stroke="#ff5c97" stroke-width="1.89" stroke-linecap="round" fill="none"/>
<clipPath id="mc7"><path d="M125.75,482.84 C124.77,480.35 124.32,477.79 124.22,475.45 C124.11,473.11 124.4,471.19 125.13,468.81 C125.86,466.43 127,463.54 128.59,461.16 C130.17,458.78 132.01,456.66 134.64,454.52 C137.26,452.38 140.87,449.95 144.34,448.33 C147.81,446.72 151.9,445.4 155.47,444.81 C159.03,444.23 162.61,444.21 165.74,444.83 C168.86,445.45 171.93,446.83 174.21,448.53 C176.48,450.23 178.25,452.6 179.37,455.02 C180.49,457.45 181.2,460.61 180.92,463.09 C180.64,465.57 179.36,468.08 177.71,469.92 C176.07,471.77 173.29,473.19 171.06,474.14 C168.84,475.1 166.46,475.22 164.35,475.66 C162.23,476.1 160.14,476.02 158.38,476.79 C156.62,477.55 155.54,478.64 153.79,480.25 C152.04,481.87 149.8,484.54 147.87,486.48 C145.93,488.42 144.14,490.74 142.19,491.89 C140.24,493.04 138.16,493.63 136.15,493.39 C134.14,493.15 131.86,492.19 130.13,490.44 C128.4,488.68 126.74,485.34 125.75,482.84Z"/></clipPath>
<g clip-path="url(#mc7)" fill="none" stroke-linejoin="round">
<path d="M125.75,482.84 C124.77,480.35 124.32,477.79 124.22,475.45 C124.11,473.11 124.4,471.19 125.13,468.81 C125.86,466.43 127,463.54 128.59,461.16 C130.17,458.78 132.01,456.66 134.64,454.52 C137.26,452.38 140.87,449.95 144.34,448.33 C147.81,446.72 151.9,445.4 155.47,444.81 C159.03,444.23 162.61,444.21 165.74,444.83 C168.86,445.45 171.93,446.83 174.21,448.53 C176.48,450.23 178.25,452.6 179.37,455.02 C180.49,457.45 181.2,460.61 180.92,463.09 C180.64,465.57 179.36,468.08 177.71,469.92 C176.07,471.77 173.29,473.19 171.06,474.14 C168.84,475.1 166.46,475.22 164.35,475.66 C162.23,476.1 160.14,476.02 158.38,476.79 C156.62,477.55 155.54,478.64 153.79,480.25 C152.04,481.87 149.8,484.54 147.87,486.48 C145.93,488.42 144.14,490.74 142.19,491.89 C140.24,493.04 138.16,493.63 136.15,493.39 C134.14,493.15 131.86,492.19 130.13,490.44 C128.4,488.68 126.74,485.34 125.75,482.84Z" fill="#ff5c97"/>
<path d="M125.75,482.84 C124.77,480.35 124.32,477.79 124.22,475.45 C124.11,473.11 124.4,471.19 125.13,468.81 C125.86,466.43 127,463.54 128.59,461.16 C130.17,458.78 132.01,456.66 134.64,454.52 C137.26,452.38 140.87,449.95 144.34,448.33 C147.81,446.72 151.9,445.4 155.47,444.81 C159.03,444.23 162.61,444.21 165.74,444.83 C168.86,445.45 171.93,446.83 174.21,448.53 C176.48,450.23 178.25,452.6 179.37,455.02 C180.49,457.45 181.2,460.61 180.92,463.09 C180.64,465.57 179.36,468.08 177.71,469.92 C176.07,471.77 173.29,473.19 171.06,474.14 C168.84,475.1 166.46,475.22 164.35,475.66 C162.23,476.1 160.14,476.02 158.38,476.79 C156.62,477.55 155.54,478.64 153.79,480.25 C152.04,481.87 149.8,484.54 147.87,486.48 C145.93,488.42 144.14,490.74 142.19,491.89 C140.24,493.04 138.16,493.63 136.15,493.39 C134.14,493.15 131.86,492.19 130.13,490.44 C128.4,488.68 126.74,485.34 125.75,482.84Z" stroke="#000" stroke-width="13.73"/>
<path d="M125.75,482.84 C124.77,480.35 124.32,477.79 124.22,475.45 C124.11,473.11 124.4,471.19 125.13,468.81 C125.86,466.43 127,463.54 128.59,461.16 C130.17,458.78 132.01,456.66 134.64,454.52 C137.26,452.38 140.87,449.95 144.34,448.33 C147.81,446.72 151.9,445.4 155.47,444.81 C159.03,444.23 162.61,444.21 165.74,444.83 C168.86,445.45 171.93,446.83 174.21,448.53 C176.48,450.23 178.25,452.6 179.37,455.02 C180.49,457.45 181.2,460.61 180.92,463.09 C180.64,465.57 179.36,468.08 177.71,469.92 C176.07,471.77 173.29,473.19 171.06,474.14 C168.84,475.1 166.46,475.22 164.35,475.66 C162.23,476.1 160.14,476.02 158.38,476.79 C156.62,477.55 155.54,478.64 153.79,480.25 C152.04,481.87 149.8,484.54 147.87,486.48 C145.93,488.42 144.14,490.74 142.19,491.89 C140.24,493.04 138.16,493.63 136.15,493.39 C134.14,493.15 131.86,492.19 130.13,490.44 C128.4,488.68 126.74,485.34 125.75,482.84Z" stroke="#e4508a" stroke-width="10.19"/>
<path d="M125.75,482.84 C124.77,480.35 124.32,477.79 124.22,475.45 C124.11,473.11 124.4,471.19 125.13,468.81 C125.86,466.43 127,463.54 128.59,461.16 C130.17,458.78 132.01,456.66 134.64,454.52 C137.26,452.38 140.87,449.95 144.34,448.33 C147.81,446.72 151.9,445.4 155.47,444.81 C159.03,444.23 162.61,444.21 165.74,444.83 C168.86,445.45 171.93,446.83 174.21,448.53 C176.48,450.23 178.25,452.6 179.37,455.02 C180.49,457.45 181.2,460.61 180.92,463.09 C180.64,465.57 179.36,468.08 177.71,469.92 C176.07,471.77 173.29,473.19 171.06,474.14 C168.84,475.1 166.46,475.22 164.35,475.66 C162.23,476.1 160.14,476.02 158.38,476.79 C156.62,477.55 155.54,478.64 153.79,480.25 C152.04,481.87 149.8,484.54 147.87,486.48 C145.93,488.42 144.14,490.74 142.19,491.89 C140.24,493.04 138.16,493.63 136.15,493.39 C134.14,493.15 131.86,492.19 130.13,490.44 C128.4,488.68 126.74,485.34 125.75,482.84Z" stroke="#fff0f5" stroke-width="6.35"/>
<path d="M125.75,482.84 C124.77,480.35 124.32,477.79 124.22,475.45 C124.11,473.11 124.4,471.19 125.13,468.81 C125.86,466.43 127,463.54 128.59,461.16 C130.17,458.78 132.01,456.66 134.64,454.52 C137.26,452.38 140.87,449.95 144.34,448.33 C147.81,446.72 151.9,445.4 155.47,444.81 C159.03,444.23 162.61,444.21 165.74,444.83 C168.86,445.45 171.93,446.83 174.21,448.53 C176.48,450.23 178.25,452.6 179.37,455.02 C180.49,457.45 181.2,460.61 180.92,463.09 C180.64,465.57 179.36,468.08 177.71,469.92 C176.07,471.77 173.29,473.19 171.06,474.14 C168.84,475.1 166.46,475.22 164.35,475.66 C162.23,476.1 160.14,476.02 158.38,476.79 C156.62,477.55 155.54,478.64 153.79,480.25 C152.04,481.87 149.8,484.54 147.87,486.48 C145.93,488.42 144.14,490.74 142.19,491.89 C140.24,493.04 138.16,493.63 136.15,493.39 C134.14,493.15 131.86,492.19 130.13,490.44 C128.4,488.68 126.74,485.34 125.75,482.84Z" stroke="#000" stroke-width="4.43"/>
</g>
<path d="M134.9,477.81 L135.9,479.4" stroke="#000" stroke-width="4.2" stroke-linecap="round" fill="none"/>
<path d="M134.9,477.81 L135.9,479.4" stroke="#ff5c97" stroke-width="1.4" stroke-linecap="round" fill="none"/>
<path d="M137.79,473.27 L140.87,478.39" stroke="#000" stroke-width="5.9" stroke-linecap="round" fill="none"/>
<path d="M137.79,473.27 L140.87,478.39" stroke="#ff5c97" stroke-width="3.09" stroke-linecap="round" fill="none"/>
<path d="M141.66,468.13 L146.46,477.14" stroke="#000" stroke-width="7" stroke-linecap="round" fill="none"/>
<path d="M141.66,468.13 L146.46,477.14" stroke="#ff5c97" stroke-width="4.2" stroke-linecap="round" fill="none"/>
<path d="M147.03,461.33 L151.54,471.95" stroke="#000" stroke-width="9.88" stroke-linecap="round" fill="none"/>
<path d="M147.03,461.33 L151.54,471.95" stroke="#ff5c97" stroke-width="7.07" stroke-linecap="round" fill="none"/>
<path d="M153.87,458.16 L157.86,469.76" stroke="#000" stroke-width="8.18" stroke-linecap="round" fill="none"/>
<path d="M153.87,458.16 L157.86,469.76" stroke="#ff5c97" stroke-width="5.38" stroke-linecap="round" fill="none"/>
<path d="M160.92,458.52 L163.65,468.05" stroke="#000" stroke-width="7" stroke-linecap="round" fill="none"/>
<path d="M160.92,458.52 L163.65,468.05" stroke="#ff5c97" stroke-width="4.2" stroke-linecap="round" fill="none"/>
<path d="M167.73,459.5 L168.98,464.17" stroke="#000" stroke-width="5.82" stroke-linecap="round" fill="none"/>
<path d="M167.73,459.5 L168.98,464.17" stroke="#ff5c97" stroke-width="3.02" stroke-linecap="round" fill="none"/>
<path d="M171.99,460.57 L172.41,462.15" stroke="#000" stroke-width="4.2" stroke-linecap="round" fill="none"/>
<path d="M171.99,460.57 L172.41,462.15" stroke="#ff5c97" stroke-width="1.4" stroke-linecap="round" fill="none"/>
<clipPath id="mc8"><path d="M86.64,528.63 C85.34,526.67 84.49,524.56 83.98,522.57 C83.46,520.59 83.36,518.89 83.55,516.72 C83.74,514.54 84.19,511.86 85.12,509.53 C86.04,507.2 87.23,505.06 89.09,502.75 C90.95,500.44 93.6,497.7 96.28,495.68 C98.96,493.66 102.22,491.79 105.17,490.64 C108.12,489.49 111.18,488.81 113.97,488.78 C116.76,488.74 119.64,489.37 121.9,490.41 C124.15,491.45 126.1,493.15 127.5,495.03 C128.9,496.9 130.09,499.48 130.3,501.66 C130.52,503.84 129.87,506.22 128.8,508.1 C127.73,509.98 125.61,511.7 123.87,512.92 C122.14,514.15 120.13,514.69 118.39,515.45 C116.66,516.21 114.85,516.52 113.48,517.5 C112.12,518.47 111.39,519.6 110.18,521.3 C108.98,523 107.55,525.7 106.24,527.71 C104.94,529.73 103.83,532.04 102.37,533.38 C100.91,534.73 99.23,535.61 97.47,535.77 C95.7,535.93 93.58,535.52 91.77,534.33 C89.97,533.14 87.94,530.59 86.64,528.63Z"/></clipPath>
<g clip-path="url(#mc8)" fill="none" stroke-linejoin="round">
<path d="M86.64,528.63 C85.34,526.67 84.49,524.56 83.98,522.57 C83.46,520.59 83.36,518.89 83.55,516.72 C83.74,514.54 84.19,511.86 85.12,509.53 C86.04,507.2 87.23,505.06 89.09,502.75 C90.95,500.44 93.6,497.7 96.28,495.68 C98.96,493.66 102.22,491.79 105.17,490.64 C108.12,489.49 111.18,488.81 113.97,488.78 C116.76,488.74 119.64,489.37 121.9,490.41 C124.15,491.45 126.1,493.15 127.5,495.03 C128.9,496.9 130.09,499.48 130.3,501.66 C130.52,503.84 129.87,506.22 128.8,508.1 C127.73,509.98 125.61,511.7 123.87,512.92 C122.14,514.15 120.13,514.69 118.39,515.45 C116.66,516.21 114.85,516.52 113.48,517.5 C112.12,518.47 111.39,519.6 110.18,521.3 C108.98,523 107.55,525.7 106.24,527.71 C104.94,529.73 103.83,532.04 102.37,533.38 C100.91,534.73 99.23,535.61 97.47,535.77 C95.7,535.93 93.58,535.52 91.77,534.33 C89.97,533.14 87.94,530.59 86.64,528.63Z" fill="#ff5c97"/>
<path d="M86.64,528.63 C85.34,526.67 84.49,524.56 83.98,522.57 C83.46,520.59 83.36,518.89 83.55,516.72 C83.74,514.54 84.19,511.86 85.12,509.53 C86.04,507.2 87.23,505.06 89.09,502.75 C90.95,500.44 93.6,497.7 96.28,495.68 C98.96,493.66 102.22,491.79 105.17,490.64 C108.12,489.49 111.18,488.81 113.97,488.78 C116.76,488.74 119.64,489.37 121.9,490.41 C124.15,491.45 126.1,493.15 127.5,495.03 C128.9,496.9 130.09,499.48 130.3,501.66 C130.52,503.84 129.87,506.22 128.8,508.1 C127.73,509.98 125.61,511.7 123.87,512.92 C122.14,514.15 120.13,514.69 118.39,515.45 C116.66,516.21 114.85,516.52 113.48,517.5 C112.12,518.47 111.39,519.6 110.18,521.3 C108.98,523 107.55,525.7 106.24,527.71 C104.94,529.73 103.83,532.04 102.37,533.38 C100.91,534.73 99.23,535.61 97.47,535.77 C95.7,535.93 93.58,535.52 91.77,534.33 C89.97,533.14 87.94,530.59 86.64,528.63Z" stroke="#000" stroke-width="12.03"/>
<path d="M86.64,528.63 C85.34,526.67 84.49,524.56 83.98,522.57 C83.46,520.59 83.36,518.89 83.55,516.72 C83.74,514.54 84.19,511.86 85.12,509.53 C86.04,507.2 87.23,505.06 89.09,502.75 C90.95,500.44 93.6,497.7 96.28,495.68 C98.96,493.66 102.22,491.79 105.17,490.64 C108.12,489.49 111.18,488.81 113.97,488.78 C116.76,488.74 119.64,489.37 121.9,490.41 C124.15,491.45 126.1,493.15 127.5,495.03 C128.9,496.9 130.09,499.48 130.3,501.66 C130.52,503.84 129.87,506.22 128.8,508.1 C127.73,509.98 125.61,511.7 123.87,512.92 C122.14,514.15 120.13,514.69 118.39,515.45 C116.66,516.21 114.85,516.52 113.48,517.5 C112.12,518.47 111.39,519.6 110.18,521.3 C108.98,523 107.55,525.7 106.24,527.71 C104.94,529.73 103.83,532.04 102.37,533.38 C100.91,534.73 99.23,535.61 97.47,535.77 C95.7,535.93 93.58,535.52 91.77,534.33 C89.97,533.14 87.94,530.59 86.64,528.63Z" stroke="#e4508a" stroke-width="8.92"/>
<path d="M86.64,528.63 C85.34,526.67 84.49,524.56 83.98,522.57 C83.46,520.59 83.36,518.89 83.55,516.72 C83.74,514.54 84.19,511.86 85.12,509.53 C86.04,507.2 87.23,505.06 89.09,502.75 C90.95,500.44 93.6,497.7 96.28,495.68 C98.96,493.66 102.22,491.79 105.17,490.64 C108.12,489.49 111.18,488.81 113.97,488.78 C116.76,488.74 119.64,489.37 121.9,490.41 C124.15,491.45 126.1,493.15 127.5,495.03 C128.9,496.9 130.09,499.48 130.3,501.66 C130.52,503.84 129.87,506.22 128.8,508.1 C127.73,509.98 125.61,511.7 123.87,512.92 C122.14,514.15 120.13,514.69 118.39,515.45 C116.66,516.21 114.85,516.52 113.48,517.5 C112.12,518.47 111.39,519.6 110.18,521.3 C108.98,523 107.55,525.7 106.24,527.71 C104.94,529.73 103.83,532.04 102.37,533.38 C100.91,534.73 99.23,535.61 97.47,535.77 C95.7,535.93 93.58,535.52 91.77,534.33 C89.97,533.14 87.94,530.59 86.64,528.63Z" stroke="#fff0f5" stroke-width="5.56"/>
<path d="M86.64,528.63 C85.34,526.67 84.49,524.56 83.98,522.57 C83.46,520.59 83.36,518.89 83.55,516.72 C83.74,514.54 84.19,511.86 85.12,509.53 C86.04,507.2 87.23,505.06 89.09,502.75 C90.95,500.44 93.6,497.7 96.28,495.68 C98.96,493.66 102.22,491.79 105.17,490.64 C108.12,489.49 111.18,488.81 113.97,488.78 C116.76,488.74 119.64,489.37 121.9,490.41 C124.15,491.45 126.1,493.15 127.5,495.03 C128.9,496.9 130.09,499.48 130.3,501.66 C130.52,503.84 129.87,506.22 128.8,508.1 C127.73,509.98 125.61,511.7 123.87,512.92 C122.14,514.15 120.13,514.69 118.39,515.45 C116.66,516.21 114.85,516.52 113.48,517.5 C112.12,518.47 111.39,519.6 110.18,521.3 C108.98,523 107.55,525.7 106.24,527.71 C104.94,529.73 103.83,532.04 102.37,533.38 C100.91,534.73 99.23,535.61 97.47,535.77 C95.7,535.93 93.58,535.52 91.77,534.33 C89.97,533.14 87.94,530.59 86.64,528.63Z" stroke="#000" stroke-width="3.88"/>
</g>
<path d="M93.56,522.65 L94.7,523.83" stroke="#000" stroke-width="3.68" stroke-linecap="round" fill="none"/>
<path d="M93.56,522.65 L94.7,523.83" stroke="#ff5c97" stroke-width="1.22" stroke-linecap="round" fill="none"/>
<path d="M95.21,518.23 L98.78,522.06" stroke="#000" stroke-width="5.17" stroke-linecap="round" fill="none"/>
<path d="M95.21,518.23 L98.78,522.06" stroke="#ff5c97" stroke-width="2.71" stroke-linecap="round" fill="none"/>
<path d="M97.59,513.12 L103.34,519.97" stroke="#000" stroke-width="6.13" stroke-linecap="round" fill="none"/>
<path d="M97.59,513.12 L103.34,519.97" stroke="#ff5c97" stroke-width="3.68" stroke-linecap="round" fill="none"/>
<path d="M100.95,506.32 L106.75,514.6" stroke="#000" stroke-width="8.65" stroke-linecap="round" fill="none"/>
<path d="M100.95,506.32 L106.75,514.6" stroke="#ff5c97" stroke-width="6.19" stroke-linecap="round" fill="none"/>
<path d="M106.23,502.36 L111.76,511.57" stroke="#000" stroke-width="7.17" stroke-linecap="round" fill="none"/>
<path d="M106.23,502.36 L111.76,511.57" stroke="#ff5c97" stroke-width="4.71" stroke-linecap="round" fill="none"/>
<path d="M112.33,501.39 L116.41,509.05" stroke="#000" stroke-width="6.13" stroke-linecap="round" fill="none"/>
<path d="M112.33,501.39 L116.41,509.05" stroke="#ff5c97" stroke-width="3.68" stroke-linecap="round" fill="none"/>
<path d="M118.35,500.99 L120.27,504.76" stroke="#000" stroke-width="5.1" stroke-linecap="round" fill="none"/>
<path d="M118.35,500.99 L120.27,504.76" stroke="#ff5c97" stroke-width="2.64" stroke-linecap="round" fill="none"/>
<path d="M122.2,501.13 L122.84,502.4" stroke="#000" stroke-width="3.68" stroke-linecap="round" fill="none"/>
<path d="M122.2,501.13 L122.84,502.4" stroke="#ff5c97" stroke-width="1.22" stroke-linecap="round" fill="none"/>
<clipPath id="mc9"><path d="M133.18,528.51 C132.34,526.96 131.84,525.33 131.58,523.81 C131.33,522.29 131.36,521.02 131.65,519.41 C131.93,517.79 132.45,515.82 133.29,514.14 C134.13,512.46 135.16,510.93 136.7,509.32 C138.25,507.72 140.41,505.84 142.54,504.51 C144.68,503.17 147.24,501.99 149.52,501.32 C151.8,500.65 154.13,500.35 156.22,500.51 C158.3,500.66 160.42,501.32 162.04,502.24 C163.66,503.17 165,504.57 165.93,506.07 C166.85,507.56 167.57,509.56 167.59,511.2 C167.61,512.85 166.97,514.59 166.04,515.92 C165.12,517.25 163.42,518.4 162.04,519.21 C160.66,520.01 159.13,520.28 157.78,520.73 C156.44,521.19 155.06,521.31 153.98,521.95 C152.89,522.59 152.27,523.38 151.26,524.57 C150.25,525.77 149,527.69 147.9,529.11 C146.79,530.53 145.81,532.19 144.63,533.1 C143.45,534 142.14,534.56 140.81,534.56 C139.48,534.56 137.91,534.12 136.64,533.11 C135.37,532.11 134.02,530.06 133.18,528.51Z"/></clipPath>
<g clip-path="url(#mc9)" fill="none" stroke-linejoin="round">
<path d="M133.18,528.51 C132.34,526.96 131.84,525.33 131.58,523.81 C131.33,522.29 131.36,521.02 131.65,519.41 C131.93,517.79 132.45,515.82 133.29,514.14 C134.13,512.46 135.16,510.93 136.7,509.32 C138.25,507.72 140.41,505.84 142.54,504.51 C144.68,503.17 147.24,501.99 149.52,501.32 C151.8,500.65 154.13,500.35 156.22,500.51 C158.3,500.66 160.42,501.32 162.04,502.24 C163.66,503.17 165,504.57 165.93,506.07 C166.85,507.56 167.57,509.56 167.59,511.2 C167.61,512.85 166.97,514.59 166.04,515.92 C165.12,517.25 163.42,518.4 162.04,519.21 C160.66,520.01 159.13,520.28 157.78,520.73 C156.44,521.19 155.06,521.31 153.98,521.95 C152.89,522.59 152.27,523.38 151.26,524.57 C150.25,525.77 149,527.69 147.9,529.11 C146.79,530.53 145.81,532.19 144.63,533.1 C143.45,534 142.14,534.56 140.81,534.56 C139.48,534.56 137.91,534.12 136.64,533.11 C135.37,532.11 134.02,530.06 133.18,528.51Z" fill="#f7bdf5"/>
<path d="M133.18,528.51 C132.34,526.96 131.84,525.33 131.58,523.81 C131.33,522.29 131.36,521.02 131.65,519.41 C131.93,517.79 132.45,515.82 133.29,514.14 C134.13,512.46 135.16,510.93 136.7,509.32 C138.25,507.72 140.41,505.84 142.54,504.51 C144.68,503.17 147.24,501.99 149.52,501.32 C151.8,500.65 154.13,500.35 156.22,500.51 C158.3,500.66 160.42,501.32 162.04,502.24 C163.66,503.17 165,504.57 165.93,506.07 C166.85,507.56 167.57,509.56 167.59,511.2 C167.61,512.85 166.97,514.59 166.04,515.92 C165.12,517.25 163.42,518.4 162.04,519.21 C160.66,520.01 159.13,520.28 157.78,520.73 C156.44,521.19 155.06,521.31 153.98,521.95 C152.89,522.59 152.27,523.38 151.26,524.57 C150.25,525.77 149,527.69 147.9,529.11 C146.79,530.53 145.81,532.19 144.63,533.1 C143.45,534 142.14,534.56 140.81,534.56 C139.48,534.56 137.91,534.12 136.64,533.11 C135.37,532.11 134.02,530.06 133.18,528.51Z" stroke="#3a3a3a" stroke-width="9.03"/>
<path d="M133.18,528.51 C132.34,526.96 131.84,525.33 131.58,523.81 C131.33,522.29 131.36,521.02 131.65,519.41 C131.93,517.79 132.45,515.82 133.29,514.14 C134.13,512.46 135.16,510.93 136.7,509.32 C138.25,507.72 140.41,505.84 142.54,504.51 C144.68,503.17 147.24,501.99 149.52,501.32 C151.8,500.65 154.13,500.35 156.22,500.51 C158.3,500.66 160.42,501.32 162.04,502.24 C163.66,503.17 165,504.57 165.93,506.07 C166.85,507.56 167.57,509.56 167.59,511.2 C167.61,512.85 166.97,514.59 166.04,515.92 C165.12,517.25 163.42,518.4 162.04,519.21 C160.66,520.01 159.13,520.28 157.78,520.73 C156.44,521.19 155.06,521.31 153.98,521.95 C152.89,522.59 152.27,523.38 151.26,524.57 C150.25,525.77 149,527.69 147.9,529.11 C146.79,530.53 145.81,532.19 144.63,533.1 C143.45,534 142.14,534.56 140.81,534.56 C139.48,534.56 137.91,534.12 136.64,533.11 C135.37,532.11 134.02,530.06 133.18,528.51Z" stroke="#c9a3cf" stroke-width="6.7"/>
<path d="M133.18,528.51 C132.34,526.96 131.84,525.33 131.58,523.81 C131.33,522.29 131.36,521.02 131.65,519.41 C131.93,517.79 132.45,515.82 133.29,514.14 C134.13,512.46 135.16,510.93 136.7,509.32 C138.25,507.72 140.41,505.84 142.54,504.51 C144.68,503.17 147.24,501.99 149.52,501.32 C151.8,500.65 154.13,500.35 156.22,500.51 C158.3,500.66 160.42,501.32 162.04,502.24 C163.66,503.17 165,504.57 165.93,506.07 C166.85,507.56 167.57,509.56 167.59,511.2 C167.61,512.85 166.97,514.59 166.04,515.92 C165.12,517.25 163.42,518.4 162.04,519.21 C160.66,520.01 159.13,520.28 157.78,520.73 C156.44,521.19 155.06,521.31 153.98,521.95 C152.89,522.59 152.27,523.38 151.26,524.57 C150.25,525.77 149,527.69 147.9,529.11 C146.79,530.53 145.81,532.19 144.63,533.1 C143.45,534 142.14,534.56 140.81,534.56 C139.48,534.56 137.91,534.12 136.64,533.11 C135.37,532.11 134.02,530.06 133.18,528.51Z" stroke="#ece0ee" stroke-width="4.17"/>
<path d="M133.18,528.51 C132.34,526.96 131.84,525.33 131.58,523.81 C131.33,522.29 131.36,521.02 131.65,519.41 C131.93,517.79 132.45,515.82 133.29,514.14 C134.13,512.46 135.16,510.93 136.7,509.32 C138.25,507.72 140.41,505.84 142.54,504.51 C144.68,503.17 147.24,501.99 149.52,501.32 C151.8,500.65 154.13,500.35 156.22,500.51 C158.3,500.66 160.42,501.32 162.04,502.24 C163.66,503.17 165,504.57 165.93,506.07 C166.85,507.56 167.57,509.56 167.59,511.2 C167.61,512.85 166.97,514.59 166.04,515.92 C165.12,517.25 163.42,518.4 162.04,519.21 C160.66,520.01 159.13,520.28 157.78,520.73 C156.44,521.19 155.06,521.31 153.98,521.95 C152.89,522.59 152.27,523.38 151.26,524.57 C150.25,525.77 149,527.69 147.9,529.11 C146.79,530.53 145.81,532.19 144.63,533.1 C143.45,534 142.14,534.56 140.81,534.56 C139.48,534.56 137.91,534.12 136.64,533.11 C135.37,532.11 134.02,530.06 133.18,528.51Z" stroke="#3a3a3a" stroke-width="2.91"/>
</g>
<path d="M138.75,524.49 L139.52,525.45" stroke="#3a3a3a" stroke-width="2.76" stroke-linecap="round" fill="none"/>
<path d="M138.75,524.49 L139.52,525.45" stroke="#f7bdf5" stroke-width="0.92" stroke-linecap="round" fill="none"/>
<path d="M140.26,521.3 L142.68,524.4" stroke="#3a3a3a" stroke-width="3.88" stroke-linecap="round" fill="none"/>
<path d="M140.26,521.3 L142.68,524.4" stroke="#f7bdf5" stroke-width="2.03" stroke-linecap="round" fill="none"/>
<path d="M142.38,517.63 L146.23,523.13" stroke="#3a3a3a" stroke-width="4.6" stroke-linecap="round" fill="none"/>
<path d="M142.38,517.63 L146.23,523.13" stroke="#f7bdf5" stroke-width="2.76" stroke-linecap="round" fill="none"/>
<path d="M145.34,512.77 L149.13,519.34" stroke="#3a3a3a" stroke-width="6.49" stroke-linecap="round" fill="none"/>
<path d="M145.34,512.77 L149.13,519.34" stroke="#f7bdf5" stroke-width="4.65" stroke-linecap="round" fill="none"/>
<path d="M149.54,510.16 L153.08,517.4" stroke="#3a3a3a" stroke-width="5.38" stroke-linecap="round" fill="none"/>
<path d="M149.54,510.16 L153.08,517.4" stroke="#f7bdf5" stroke-width="3.53" stroke-linecap="round" fill="none"/>
<path d="M154.17,509.83 L156.71,515.82" stroke="#3a3a3a" stroke-width="4.6" stroke-linecap="round" fill="none"/>
<path d="M154.17,509.83 L156.71,515.82" stroke="#f7bdf5" stroke-width="2.76" stroke-linecap="round" fill="none"/>
<path d="M158.69,509.92 L159.88,512.87" stroke="#3a3a3a" stroke-width="3.83" stroke-linecap="round" fill="none"/>
<path d="M158.69,509.92 L159.88,512.87" stroke="#f7bdf5" stroke-width="1.98" stroke-linecap="round" fill="none"/>
<path d="M161.56,510.28 L161.96,511.27" stroke="#3a3a3a" stroke-width="2.76" stroke-linecap="round" fill="none"/>
<path d="M161.56,510.28 L161.96,511.27" stroke="#f7bdf5" stroke-width="0.92" stroke-linecap="round" fill="none"/>
<clipPath id="mc10"><path d="M63.5,626.52 C62.05,624.34 61.1,621.99 60.53,619.77 C59.95,617.56 59.84,615.66 60.05,613.24 C60.27,610.81 60.77,607.82 61.8,605.22 C62.83,602.63 64.16,600.23 66.23,597.66 C68.31,595.08 71.26,592.02 74.25,589.77 C77.24,587.52 80.88,585.43 84.17,584.15 C87.45,582.87 90.87,582.12 93.98,582.08 C97.09,582.03 100.31,582.73 102.82,583.9 C105.34,585.06 107.51,586.96 109.07,589.05 C110.64,591.14 111.95,594.01 112.2,596.44 C112.44,598.87 111.72,601.53 110.52,603.62 C109.33,605.72 106.96,607.64 105.02,609.01 C103.09,610.37 100.85,610.97 98.92,611.82 C96.98,612.67 94.96,613.02 93.44,614.11 C91.91,615.2 91.1,616.45 89.76,618.35 C88.41,620.25 86.82,623.26 85.36,625.5 C83.91,627.75 82.67,630.33 81.04,631.83 C79.41,633.32 77.54,634.31 75.57,634.49 C73.6,634.67 71.24,634.21 69.22,632.89 C67.21,631.56 64.95,628.71 63.5,626.52Z"/></clipPath>
<g clip-path="url(#mc10)" fill="none" stroke-linejoin="round">
<path d="M63.5,626.52 C62.05,624.34 61.1,621.99 60.53,619.77 C59.95,617.56 59.84,615.66 60.05,613.24 C60.27,610.81 60.77,607.82 61.8,605.22 C62.83,602.63 64.16,600.23 66.23,597.66 C68.31,595.08 71.26,592.02 74.25,589.77 C77.24,587.52 80.88,585.43 84.17,584.15 C87.45,582.87 90.87,582.12 93.98,582.08 C97.09,582.03 100.31,582.73 102.82,583.9 C105.34,585.06 107.51,586.96 109.07,589.05 C110.64,591.14 111.95,594.01 112.2,596.44 C112.44,598.87 111.72,601.53 110.52,603.62 C109.33,605.72 106.96,607.64 105.02,609.01 C103.09,610.37 100.85,610.97 98.92,611.82 C96.98,612.67 94.96,613.02 93.44,614.11 C91.91,615.2 91.1,616.45 89.76,618.35 C88.41,620.25 86.82,623.26 85.36,625.5 C83.91,627.75 82.67,630.33 81.04,631.83 C79.41,633.32 77.54,634.31 75.57,634.49 C73.6,634.67 71.24,634.21 69.22,632.89 C67.21,631.56 64.95,628.71 63.5,626.52Z" fill="#ff5c97"/>
<path d="M63.5,626.52 C62.05,624.34 61.1,621.99 60.53,619.77 C59.95,617.56 59.84,615.66 60.05,613.24 C60.27,610.81 60.77,607.82 61.8,605.22 C62.83,602.63 64.16,600.23 66.23,597.66 C68.31,595.08 71.26,592.02 74.25,589.77 C77.24,587.52 80.88,585.43 84.17,584.15 C87.45,582.87 90.87,582.12 93.98,582.08 C97.09,582.03 100.31,582.73 102.82,583.9 C105.34,585.06 107.51,586.96 109.07,589.05 C110.64,591.14 111.95,594.01 112.2,596.44 C112.44,598.87 111.72,601.53 110.52,603.62 C109.33,605.72 106.96,607.64 105.02,609.01 C103.09,610.37 100.85,610.97 98.92,611.82 C96.98,612.67 94.96,613.02 93.44,614.11 C91.91,615.2 91.1,616.45 89.76,618.35 C88.41,620.25 86.82,623.26 85.36,625.5 C83.91,627.75 82.67,630.33 81.04,631.83 C79.41,633.32 77.54,634.31 75.57,634.49 C73.6,634.67 71.24,634.21 69.22,632.89 C67.21,631.56 64.95,628.71 63.5,626.52Z" stroke="#000" stroke-width="13.42"/>
<path d="M63.5,626.52 C62.05,624.34 61.1,621.99 60.53,619.77 C59.95,617.56 59.84,615.66 60.05,613.24 C60.27,610.81 60.77,607.82 61.8,605.22 C62.83,602.63 64.16,600.23 66.23,597.66 C68.31,595.08 71.26,592.02 74.25,589.77 C77.24,587.52 80.88,585.43 84.17,584.15 C87.45,582.87 90.87,582.12 93.98,582.08 C97.09,582.03 100.31,582.73 102.82,583.9 C105.34,585.06 107.51,586.96 109.07,589.05 C110.64,591.14 111.95,594.01 112.2,596.44 C112.44,598.87 111.72,601.53 110.52,603.62 C109.33,605.72 106.96,607.64 105.02,609.01 C103.09,610.37 100.85,610.97 98.92,611.82 C96.98,612.67 94.96,613.02 93.44,614.11 C91.91,615.2 91.1,616.45 89.76,618.35 C88.41,620.25 86.82,623.26 85.36,625.5 C83.91,627.75 82.67,630.33 81.04,631.83 C79.41,633.32 77.54,634.31 75.57,634.49 C73.6,634.67 71.24,634.21 69.22,632.89 C67.21,631.56 64.95,628.71 63.5,626.52Z" stroke="#e4508a" stroke-width="9.95"/>
<path d="M63.5,626.52 C62.05,624.34 61.1,621.99 60.53,619.77 C59.95,617.56 59.84,615.66 60.05,613.24 C60.27,610.81 60.77,607.82 61.8,605.22 C62.83,602.63 64.16,600.23 66.23,597.66 C68.31,595.08 71.26,592.02 74.25,589.77 C77.24,587.52 80.88,585.43 84.17,584.15 C87.45,582.87 90.87,582.12 93.98,582.08 C97.09,582.03 100.31,582.73 102.82,583.9 C105.34,585.06 107.51,586.96 109.07,589.05 C110.64,591.14 111.95,594.01 112.2,596.44 C112.44,598.87 111.72,601.53 110.52,603.62 C109.33,605.72 106.96,607.64 105.02,609.01 C103.09,610.37 100.85,610.97 98.92,611.82 C96.98,612.67 94.96,613.02 93.44,614.11 C91.91,615.2 91.1,616.45 89.76,618.35 C88.41,620.25 86.82,623.26 85.36,625.5 C83.91,627.75 82.67,630.33 81.04,631.83 C79.41,633.32 77.54,634.31 75.57,634.49 C73.6,634.67 71.24,634.21 69.22,632.89 C67.21,631.56 64.95,628.71 63.5,626.52Z" stroke="#fff0f5" stroke-width="6.2"/>
<path d="M63.5,626.52 C62.05,624.34 61.1,621.99 60.53,619.77 C59.95,617.56 59.84,615.66 60.05,613.24 C60.27,610.81 60.77,607.82 61.8,605.22 C62.83,602.63 64.16,600.23 66.23,597.66 C68.31,595.08 71.26,592.02 74.25,589.77 C77.24,587.52 80.88,585.43 84.17,584.15 C87.45,582.87 90.87,582.12 93.98,582.08 C97.09,582.03 100.31,582.73 102.82,583.9 C105.34,585.06 107.51,586.96 109.07,589.05 C110.64,591.14 111.95,594.01 112.2,596.44 C112.44,598.87 111.72,601.53 110.52,603.62 C109.33,605.72 106.96,607.64 105.02,609.01 C103.09,610.37 100.85,610.97 98.92,611.82 C96.98,612.67 94.96,613.02 93.44,614.11 C91.91,615.2 91.1,616.45 89.76,618.35 C88.41,620.25 86.82,623.26 85.36,625.5 C83.91,627.75 82.67,630.33 81.04,631.83 C79.41,633.32 77.54,634.31 75.57,634.49 C73.6,634.67 71.24,634.21 69.22,632.89 C67.21,631.56 64.95,628.71 63.5,626.52Z" stroke="#000" stroke-width="4.33"/>
</g>
<path d="M71.22,619.85 L72.49,621.17" stroke="#000" stroke-width="4.11" stroke-linecap="round" fill="none"/>
<path d="M71.22,619.85 L72.49,621.17" stroke="#ff5c97" stroke-width="1.36" stroke-linecap="round" fill="none"/>
<path d="M73.05,614.93 L77.04,619.2" stroke="#000" stroke-width="5.76" stroke-linecap="round" fill="none"/>
<path d="M73.05,614.93 L77.04,619.2" stroke="#ff5c97" stroke-width="3.02" stroke-linecap="round" fill="none"/>
<path d="M75.71,609.23 L82.12,616.87" stroke="#000" stroke-width="6.84" stroke-linecap="round" fill="none"/>
<path d="M75.71,609.23 L82.12,616.87" stroke="#ff5c97" stroke-width="4.1" stroke-linecap="round" fill="none"/>
<path d="M79.46,601.64 L85.92,610.87" stroke="#000" stroke-width="9.65" stroke-linecap="round" fill="none"/>
<path d="M79.46,601.64 L85.92,610.87" stroke="#ff5c97" stroke-width="6.91" stroke-linecap="round" fill="none"/>
<path d="M85.35,597.23 L91.52,607.5" stroke="#000" stroke-width="7.99" stroke-linecap="round" fill="none"/>
<path d="M85.35,597.23 L91.52,607.5" stroke="#ff5c97" stroke-width="5.25" stroke-linecap="round" fill="none"/>
<path d="M92.16,596.14 L96.7,604.69" stroke="#000" stroke-width="6.84" stroke-linecap="round" fill="none"/>
<path d="M92.16,596.14 L96.7,604.69" stroke="#ff5c97" stroke-width="4.1" stroke-linecap="round" fill="none"/>
<path d="M98.86,595.7 L101,599.9" stroke="#000" stroke-width="5.69" stroke-linecap="round" fill="none"/>
<path d="M98.86,595.7 L101,599.9" stroke="#ff5c97" stroke-width="2.95" stroke-linecap="round" fill="none"/>
<path d="M103.16,595.85 L103.88,597.27" stroke="#000" stroke-width="4.11" stroke-linecap="round" fill="none"/>
<path d="M103.16,595.85 L103.88,597.27" stroke="#ff5c97" stroke-width="1.36" stroke-linecap="round" fill="none"/>
<clipPath id="mc11"><path d="M116.12,585.55 C115.97,583.19 116.29,580.92 116.84,578.93 C117.4,576.94 118.16,575.4 119.42,573.6 C120.68,571.8 122.43,569.69 124.41,568.12 C126.39,566.56 128.51,565.28 131.3,564.2 C134.08,563.13 137.78,562.07 141.13,561.66 C144.49,561.25 148.28,561.25 151.43,561.74 C154.58,562.22 157.59,563.18 160.04,564.55 C162.49,565.92 164.7,567.92 166.14,569.97 C167.58,572.01 168.42,574.48 168.7,576.82 C168.98,579.16 168.71,582.01 167.8,584.02 C166.9,586.03 165.13,587.78 163.25,588.88 C161.37,589.98 158.65,590.41 156.52,590.61 C154.39,590.8 152.36,590.26 150.47,590.05 C148.57,589.84 146.84,589.2 145.15,589.36 C143.46,589.53 142.27,590.14 140.35,591.02 C138.44,591.9 135.84,593.53 133.68,594.63 C131.53,595.73 129.4,597.19 127.45,597.63 C125.49,598.06 123.59,597.99 121.97,597.24 C120.35,596.49 118.7,595.06 117.72,593.12 C116.75,591.17 116.26,587.92 116.12,585.55Z"/></clipPath>
<g clip-path="url(#mc11)" fill="none" stroke-linejoin="round">
<path d="M116.12,585.55 C115.97,583.19 116.29,580.92 116.84,578.93 C117.4,576.94 118.16,575.4 119.42,573.6 C120.68,571.8 122.43,569.69 124.41,568.12 C126.39,566.56 128.51,565.28 131.3,564.2 C134.08,563.13 137.78,562.07 141.13,561.66 C144.49,561.25 148.28,561.25 151.43,561.74 C154.58,562.22 157.59,563.18 160.04,564.55 C162.49,565.92 164.7,567.92 166.14,569.97 C167.58,572.01 168.42,574.48 168.7,576.82 C168.98,579.16 168.71,582.01 167.8,584.02 C166.9,586.03 165.13,587.78 163.25,588.88 C161.37,589.98 158.65,590.41 156.52,590.61 C154.39,590.8 152.36,590.26 150.47,590.05 C148.57,589.84 146.84,589.2 145.15,589.36 C143.46,589.53 142.27,590.14 140.35,591.02 C138.44,591.9 135.84,593.53 133.68,594.63 C131.53,595.73 129.4,597.19 127.45,597.63 C125.49,598.06 123.59,597.99 121.97,597.24 C120.35,596.49 118.7,595.06 117.72,593.12 C116.75,591.17 116.26,587.92 116.12,585.55Z" fill="#f9c8f8"/>
<path d="M116.12,585.55 C115.97,583.19 116.29,580.92 116.84,578.93 C117.4,576.94 118.16,575.4 119.42,573.6 C120.68,571.8 122.43,569.69 124.41,568.12 C126.39,566.56 128.51,565.28 131.3,564.2 C134.08,563.13 137.78,562.07 141.13,561.66 C144.49,561.25 148.28,561.25 151.43,561.74 C154.58,562.22 157.59,563.18 160.04,564.55 C162.49,565.92 164.7,567.92 166.14,569.97 C167.58,572.01 168.42,574.48 168.7,576.82 C168.98,579.16 168.71,582.01 167.8,584.02 C166.9,586.03 165.13,587.78 163.25,588.88 C161.37,589.98 158.65,590.41 156.52,590.61 C154.39,590.8 152.36,590.26 150.47,590.05 C148.57,589.84 146.84,589.2 145.15,589.36 C143.46,589.53 142.27,590.14 140.35,591.02 C138.44,591.9 135.84,593.53 133.68,594.63 C131.53,595.73 129.4,597.19 127.45,597.63 C125.49,598.06 123.59,597.99 121.97,597.24 C120.35,596.49 118.7,595.06 117.72,593.12 C116.75,591.17 116.26,587.92 116.12,585.55Z" stroke="#444" stroke-width="12.12"/>
<path d="M116.12,585.55 C115.97,583.19 116.29,580.92 116.84,578.93 C117.4,576.94 118.16,575.4 119.42,573.6 C120.68,571.8 122.43,569.69 124.41,568.12 C126.39,566.56 128.51,565.28 131.3,564.2 C134.08,563.13 137.78,562.07 141.13,561.66 C144.49,561.25 148.28,561.25 151.43,561.74 C154.58,562.22 157.59,563.18 160.04,564.55 C162.49,565.92 164.7,567.92 166.14,569.97 C167.58,572.01 168.42,574.48 168.7,576.82 C168.98,579.16 168.71,582.01 167.8,584.02 C166.9,586.03 165.13,587.78 163.25,588.88 C161.37,589.98 158.65,590.41 156.52,590.61 C154.39,590.8 152.36,590.26 150.47,590.05 C148.57,589.84 146.84,589.2 145.15,589.36 C143.46,589.53 142.27,590.14 140.35,591.02 C138.44,591.9 135.84,593.53 133.68,594.63 C131.53,595.73 129.4,597.19 127.45,597.63 C125.49,598.06 123.59,597.99 121.97,597.24 C120.35,596.49 118.7,595.06 117.72,593.12 C116.75,591.17 116.26,587.92 116.12,585.55Z" stroke="#cfa9d3" stroke-width="8.99"/>
<path d="M116.12,585.55 C115.97,583.19 116.29,580.92 116.84,578.93 C117.4,576.94 118.16,575.4 119.42,573.6 C120.68,571.8 122.43,569.69 124.41,568.12 C126.39,566.56 128.51,565.28 131.3,564.2 C134.08,563.13 137.78,562.07 141.13,561.66 C144.49,561.25 148.28,561.25 151.43,561.74 C154.58,562.22 157.59,563.18 160.04,564.55 C162.49,565.92 164.7,567.92 166.14,569.97 C167.58,572.01 168.42,574.48 168.7,576.82 C168.98,579.16 168.71,582.01 167.8,584.02 C166.9,586.03 165.13,587.78 163.25,588.88 C161.37,589.98 158.65,590.41 156.52,590.61 C154.39,590.8 152.36,590.26 150.47,590.05 C148.57,589.84 146.84,589.2 145.15,589.36 C143.46,589.53 142.27,590.14 140.35,591.02 C138.44,591.9 135.84,593.53 133.68,594.63 C131.53,595.73 129.4,597.19 127.45,597.63 C125.49,598.06 123.59,597.99 121.97,597.24 C120.35,596.49 118.7,595.06 117.72,593.12 C116.75,591.17 116.26,587.92 116.12,585.55Z" stroke="#efe3f0" stroke-width="5.6"/>
<path d="M116.12,585.55 C115.97,583.19 116.29,580.92 116.84,578.93 C117.4,576.94 118.16,575.4 119.42,573.6 C120.68,571.8 122.43,569.69 124.41,568.12 C126.39,566.56 128.51,565.28 131.3,564.2 C134.08,563.13 137.78,562.07 141.13,561.66 C144.49,561.25 148.28,561.25 151.43,561.74 C154.58,562.22 157.59,563.18 160.04,564.55 C162.49,565.92 164.7,567.92 166.14,569.97 C167.58,572.01 168.42,574.48 168.7,576.82 C168.98,579.16 168.71,582.01 167.8,584.02 C166.9,586.03 165.13,587.78 163.25,588.88 C161.37,589.98 158.65,590.41 156.52,590.61 C154.39,590.8 152.36,590.26 150.47,590.05 C148.57,589.84 146.84,589.2 145.15,589.36 C143.46,589.53 142.27,590.14 140.35,591.02 C138.44,591.9 135.84,593.53 133.68,594.63 C131.53,595.73 129.4,597.19 127.45,597.63 C125.49,598.06 123.59,597.99 121.97,597.24 C120.35,596.49 118.7,595.06 117.72,593.12 C116.75,591.17 116.26,587.92 116.12,585.55Z" stroke="#444" stroke-width="3.91"/>
</g>
<path d="M125.17,583.82 L125.57,585.43" stroke="#444" stroke-width="3.71" stroke-linecap="round" fill="none"/>
<path d="M125.17,583.82 L125.57,585.43" stroke="#f9c8f8" stroke-width="1.23" stroke-linecap="round" fill="none"/>
<path d="M128.83,580.8 L130.02,585.94" stroke="#444" stroke-width="5.2" stroke-linecap="round" fill="none"/>
<path d="M128.83,580.8 L130.02,585.94" stroke="#f9c8f8" stroke-width="2.73" stroke-linecap="round" fill="none"/>
<path d="M133.48,577.54 L135.05,586.41" stroke="#444" stroke-width="6.18" stroke-linecap="round" fill="none"/>
<path d="M133.48,577.54 L135.05,586.41" stroke="#f9c8f8" stroke-width="3.7" stroke-linecap="round" fill="none"/>
<path d="M139.84,573.3 L140.73,583.44" stroke="#444" stroke-width="8.72" stroke-linecap="round" fill="none"/>
<path d="M139.84,573.3 L140.73,583.44" stroke="#f9c8f8" stroke-width="6.24" stroke-linecap="round" fill="none"/>
<path d="M146.45,572.51 L146.64,583.32" stroke="#444" stroke-width="7.22" stroke-linecap="round" fill="none"/>
<path d="M146.45,572.51 L146.64,583.32" stroke="#f9c8f8" stroke-width="4.74" stroke-linecap="round" fill="none"/>
<path d="M152.26,574.73 L151.95,583.47" stroke="#444" stroke-width="6.18" stroke-linecap="round" fill="none"/>
<path d="M152.26,574.73 L151.95,583.47" stroke="#f9c8f8" stroke-width="3.7" stroke-linecap="round" fill="none"/>
<path d="M157.71,577.41 L157.49,581.67" stroke="#444" stroke-width="5.14" stroke-linecap="round" fill="none"/>
<path d="M157.71,577.41 L157.49,581.67" stroke="#f9c8f8" stroke-width="2.66" stroke-linecap="round" fill="none"/>
<path d="M161,579.47 L160.92,580.91" stroke="#444" stroke-width="3.71" stroke-linecap="round" fill="none"/>
<path d="M161,579.47 L160.92,580.91" stroke="#f9c8f8" stroke-width="1.23" stroke-linecap="round" fill="none"/>
<path d="M106.4,639.87 C105.56,637.77 105.26,635.54 105.3,633.46 C105.34,631.38 105.76,629.62 106.64,627.4 C107.53,625.17 108.87,622.44 110.62,620.1 C112.38,617.77 114.37,615.64 117.17,613.39 C119.97,611.14 123.78,608.5 127.4,606.6 C131.02,604.71 135.25,603 138.9,602.02 C142.55,601.04 146.18,600.55 149.31,600.71 C152.44,600.86 155.47,601.7 157.67,602.93 C159.86,604.16 161.51,606.05 162.5,608.07 C163.48,610.1 164,612.83 163.57,615.09 C163.14,617.35 161.67,619.76 159.89,621.62 C158.11,623.48 155.21,625.11 152.89,626.25 C150.57,627.39 148.15,627.81 145.98,628.48 C143.81,629.14 141.69,629.34 139.86,630.25 C138.03,631.16 136.87,632.27 134.99,633.94 C133.12,635.61 130.68,638.29 128.6,640.28 C126.52,642.26 124.56,644.57 122.51,645.85 C120.46,647.13 118.31,647.93 116.29,647.97 C114.27,648.01 112.02,647.45 110.37,646.1 C108.72,644.75 107.25,641.98 106.4,639.87Z" fill="#f9c8f8"/>
<path d="M107.16,639.31 C106.36,637.29 106.08,635.15 106.13,633.14 C106.18,631.14 106.59,629.45 107.46,627.3 C108.33,625.16 109.64,622.52 111.35,620.27 C113.06,618.01 115,615.95 117.72,613.77 C120.43,611.59 124.14,609.03 127.65,607.19 C131.17,605.35 135.27,603.69 138.81,602.72 C142.35,601.76 145.86,601.28 148.89,601.41 C151.92,601.54 154.85,602.34 156.97,603.51 C159.09,604.68 160.68,606.49 161.62,608.44 C162.56,610.38 163.06,613.01 162.63,615.19 C162.2,617.36 160.77,619.69 159.04,621.49 C157.3,623.29 154.48,624.87 152.23,625.98 C149.98,627.09 147.64,627.5 145.54,628.15 C143.43,628.81 141.38,629 139.6,629.89 C137.82,630.78 136.7,631.85 134.87,633.47 C133.05,635.08 130.67,637.68 128.65,639.6 C126.63,641.52 124.72,643.74 122.73,644.99 C120.74,646.23 118.66,647.01 116.7,647.06 C114.74,647.11 112.56,646.58 110.98,645.29 C109.39,644 107.97,641.34 107.16,639.31Z" fill="none" stroke="#555" stroke-width="2.38" stroke-dasharray="5.51 6.26" stroke-linecap="round"/>
<path d="M116.33,633.59 L117.5,635.25" stroke="#555" stroke-width="4.5" stroke-linecap="round" fill="none"/>
<path d="M116.33,633.59 L117.5,635.25" stroke="#f9c8f8" stroke-width="1.59" stroke-linecap="round" fill="none"/>
<path d="M119.26,628.99 L122.65,634.05" stroke="#555" stroke-width="6.35" stroke-linecap="round" fill="none"/>
<path d="M119.26,628.99 L122.65,634.05" stroke="#f9c8f8" stroke-width="3.44" stroke-linecap="round" fill="none"/>
<path d="M123.25,623.73 L128.36,632.58" stroke="#555" stroke-width="7.55" stroke-linecap="round" fill="none"/>
<path d="M123.25,623.73 L128.36,632.58" stroke="#f9c8f8" stroke-width="4.64" stroke-linecap="round" fill="none"/>
<path d="M128.97,616.93 L133.68,627.71" stroke="#555" stroke-width="10.68" stroke-linecap="round" fill="none"/>
<path d="M128.97,616.93 L133.68,627.71" stroke="#f9c8f8" stroke-width="7.77" stroke-linecap="round" fill="none"/>
<path d="M136,613.3 L139.93,625.03" stroke="#555" stroke-width="8.83" stroke-linecap="round" fill="none"/>
<path d="M136,613.3 L139.93,625.03" stroke="#f9c8f8" stroke-width="5.92" stroke-linecap="round" fill="none"/>
<path d="M143.02,612.89 L145.59,622.63" stroke="#555" stroke-width="7.55" stroke-linecap="round" fill="none"/>
<path d="M143.02,612.89 L145.59,622.63" stroke="#f9c8f8" stroke-width="4.64" stroke-linecap="round" fill="none"/>
<path d="M149.77,613.26 L150.95,618.19" stroke="#555" stroke-width="6.27" stroke-linecap="round" fill="none"/>
<path d="M149.77,613.26 L150.95,618.19" stroke="#f9c8f8" stroke-width="3.36" stroke-linecap="round" fill="none"/>
<path d="M153.96,613.93 L154.39,615.71" stroke="#555" stroke-width="4.5" stroke-linecap="round" fill="none"/>
<path d="M153.96,613.93 L154.39,615.71" stroke="#f9c8f8" stroke-width="1.59" stroke-linecap="round" fill="none"/>
<g transform="translate(136.9,654.3) rotate(-33)">
<path d="M0,-10.2 A13,10.2 0 0 1 0,10.2 Z" fill="#f9c8f8" stroke="#777" stroke-width="1.3" stroke-dasharray="3.2 2.4" stroke-linecap="round"/>
<path d="M3.2,-4.75 L3.2,5.75" stroke="#555" stroke-width="2.9" stroke-linecap="round"/>
<path d="M3.2,-4.75 L3.2,5.75" stroke="#f9c8f8" stroke-width="1.3" stroke-linecap="round"/>
<path d="M6.8,-3.5 L6.8,4.5" stroke="#555" stroke-width="2.9" stroke-linecap="round"/>
<path d="M6.8,-3.5 L6.8,4.5" stroke="#f9c8f8" stroke-width="1.3" stroke-linecap="round"/>
<path d="M10.2,-1.5 L10.2,2.5" stroke="#555" stroke-width="2.9" stroke-linecap="round"/>
<path d="M10.2,-1.5 L10.2,2.5" stroke="#f9c8f8" stroke-width="1.3" stroke-linecap="round"/>
</g>
<g transform="translate(130.1,660.4) rotate(-33)">
<path d="M0,-9.8 A13,9.8 0 0 0 0,9.8 Z" fill="#f9c8f8" stroke="#777" stroke-width="1.3" stroke-dasharray="3.2 2.4" stroke-linecap="round"/>
<path d="M-3.2,-4.75 L-3.2,5.75" stroke="#555" stroke-width="2.9" stroke-linecap="round"/>
<path d="M-3.2,-4.75 L-3.2,5.75" stroke="#f9c8f8" stroke-width="1.3" stroke-linecap="round"/>
<path d="M-6.8,-3.5 L-6.8,4.5" stroke="#555" stroke-width="2.9" stroke-linecap="round"/>
<path d="M-6.8,-3.5 L-6.8,4.5" stroke="#f9c8f8" stroke-width="1.3" stroke-linecap="round"/>
<path d="M-10.2,-1.5 L-10.2,2.5" stroke="#555" stroke-width="2.9" stroke-linecap="round"/>
<path d="M-10.2,-1.5 L-10.2,2.5" stroke="#f9c8f8" stroke-width="1.3" stroke-linecap="round"/>
</g>
<polygon points="266.2,560.7 259.08,562.74 257.94,561.44 259.31,560.01 259.26,558.63 259.06,556.98 259.7,555.55 261.68,555.45 262.59,554.42 263.79,553.7" fill="#fbb98c"/>
<path d="M266.2,560.7 L262.23,549.16 A12.2,12.2 0 1 1 254.47,564.06 Z" fill="#ff6600" stroke="#3a1500" stroke-width="1.2" stroke-linejoin="miter"/>
<polygon points="297.3,550.7 301.42,549.12 302.17,549.87 301.43,550.83 301.51,551.68 301.67,552.69 301.31,553.6 300.1,553.73 299.55,554.39 298.81,554.85" fill="#fff2a0"/>
<path d="M297.3,550.7 L300.04,558.22 A8,8 0 1 1 304.77,547.83 Z" fill="#ffff00" stroke="#4a4400" stroke-width="1.2" stroke-linejoin="miter"/>
<polygon points="281.6,580 285.88,578.93 286.53,579.67 285.7,580.45 285.74,581.22 285.9,582.14 285.57,582.95 284.43,583.01 283.96,583.62 283.33,584.06" fill="#fff2a0"/>
<path d="M281.6,580 L284.73,587.36 A8,8 0 1 1 289.36,578.06 Z" fill="#ffff00" stroke="#4a4400" stroke-width="1.2" stroke-linejoin="miter"/>
<polygon points="246,606 240.01,601.65 240.37,599.91 242.38,600.1 243.49,599.2 244.74,598.05 246.33,597.71 247.62,599.27 249.03,599.42 250.35,600.01" fill="#fbb98c"/>
<path d="M246,606 L253.17,596.13 A12.2,12.2 0 1 1 236.13,598.83 Z" fill="#ff6600" stroke="#3a1500" stroke-width="1.2" stroke-linejoin="miter"/>
<polygon points="254.9,624 250.57,623.16 250.3,622.19 251.4,621.81 251.71,621.08 252.01,620.17 252.69,619.58 253.76,620.03 254.49,619.7 255.28,619.6" fill="#fff2a0"/>
<path d="M254.9,624 L255.6,616.03 A8,8 0 1 1 247.05,622.47 Z" fill="#ffff00" stroke="#4a4400" stroke-width="1.2" stroke-linejoin="miter"/>
<polygon points="293.8,614.4 300.6,611.79 301.85,613.05 300.61,614.64 300.73,616.06 300.98,617.75 300.36,619.25 298.36,619.46 297.42,620.54 296.17,621.29" fill="#fbb98c"/>
<path d="M293.8,614.4 L297.71,625.75 A12,12 0 1 1 305,610.1 Z" fill="#ff6600" stroke="#3a1500" stroke-width="1.2" stroke-linejoin="miter"/>
<polygon points="306.7,635 310.63,633 311.47,633.69 310.82,634.73 310.98,635.59 311.22,636.6 310.93,637.56 309.73,637.8 309.22,638.51 308.5,639.03" fill="#fff2a0"/>
<path d="M306.7,635 L309.95,642.31 A8,8 0 1 1 313.83,631.37 Z" fill="#ffff00" stroke="#4a4400" stroke-width="1.2" stroke-linejoin="miter"/>
</svg>
</body></html>
